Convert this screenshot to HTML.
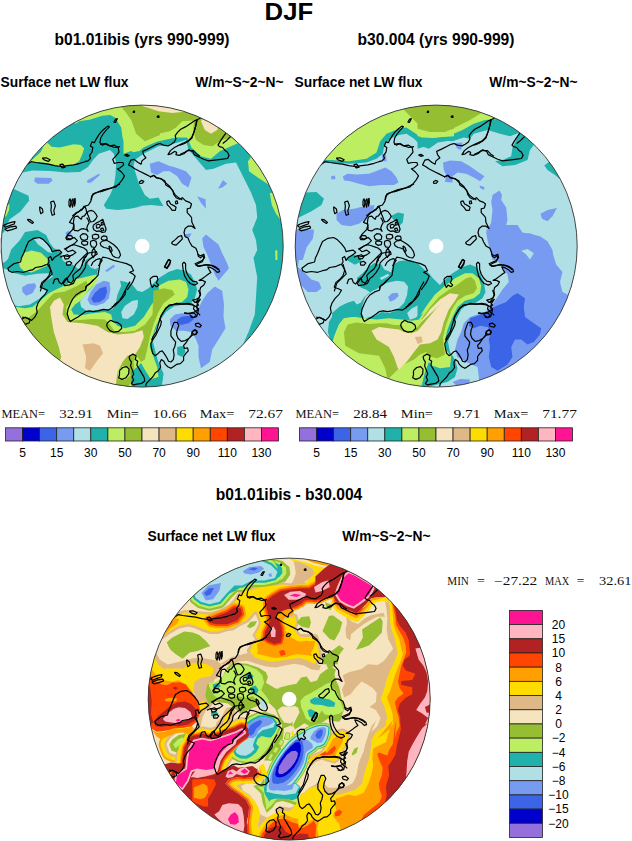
<!DOCTYPE html>
<html><head><meta charset="utf-8"><title>DJF Surface net LW flux</title>
<style>html,body{margin:0;padding:0;background:#fff}svg{display:block}</style>
</head><body>
<svg width="632" height="841" viewBox="0 0 632 841">
<style>
text{font-family:"Liberation Sans",Arial,Helvetica,sans-serif;fill:#000}
.t{font-weight:bold}
.lb{font-size:12px}
.sf{font-family:"Liberation Serif","Times New Roman",serif;fill:#111}
</style>
<rect width="632" height="841" fill="#fff"/>
<text x="264.6" y="20.3" class="t" font-size="24.8" textLength="48.6" lengthAdjust="spacingAndGlyphs">DJF</text>
<text x="142" y="44.6" class="t" font-size="15.6" text-anchor="middle">b01.01ibis (yrs 990-999)</text>
<text x="436" y="44.6" class="t" font-size="15.6" text-anchor="middle">b30.004 (yrs 990-999)</text>
<text x="0.5" y="87.2" class="t" font-size="13.8">Surface net LW flux</text>
<text x="283.5" y="87.2" class="t" font-size="13.8" text-anchor="end">W/m~S~2~N~</text>
<text x="294.5" y="87.2" class="t" font-size="13.8">Surface net LW flux</text>
<text x="577.5" y="87.2" class="t" font-size="13.8" text-anchor="end">W/m~S~2~N~</text>
<text x="289" y="500.2" class="t" font-size="15.6" text-anchor="middle">b01.01ibis - b30.004</text>
<text x="147.5" y="541" class="t" font-size="13.8">Surface net LW flux</text>
<text x="430.5" y="541" class="t" font-size="13.8" text-anchor="end">W/m~S~2~N~</text>
<clipPath id="c1"><circle cx="142.2" cy="246.1" r="141.0"/></clipPath>
<g clip-path="url(#c1)">
<circle cx="142.2" cy="246.1" r="142.0" fill="#20B2AA"/>
<polygon fill="#B0E0E6" points="-2.5,174.0 15.0,174.0 32.5,170.5 50.0,171.0 66.2,172.5 80.0,172.0 88.0,167.0 93.0,160.0 98.8,153.8 110.0,150.0 113.8,153.8 116.2,162.5 115.5,175.0 113.8,186.2 110.0,195.0 103.8,205.0 106.2,208.8 117.5,210.0 130.0,208.8 142.5,206.2 136.0,206.2 151.0,205.0 163.5,206.2 158.5,197.5 149.8,198.8 144.8,195.0 138.5,182.5 133.5,166.2 134.8,160.0 143.5,153.8 151.0,150.0 158.5,146.2 167.2,145.0 176.0,143.0 186.0,140.0 188.5,150.0 192.2,153.8 198.5,161.2 206.0,170.0 213.5,168.8 226.0,163.8 236.0,162.5 241.0,172.5 246.0,182.5 251.0,192.5 256.0,205.0 257.2,217.5 252.2,230.0 256.0,240.0 257.2,250.0 253.5,258.0 257.2,277.0 256.0,297.0 254.8,314.5 248.5,332.0 243.5,343.2 251.0,362.0 201.0,407.0 162.2,392.0 162.2,382.0 163.5,373.2 159.0,364.5 155.5,352.0 153.0,342.0 154.8,332.0 159.8,320.8 166.0,312.0 173.5,306.5 183.5,304.5 191.0,303.2 194.8,298.2 197.2,289.5 194.8,282.0 191.0,274.5 184.8,270.8 177.2,269.0 168.5,272.0 158.5,278.2 153.5,283.2 148.5,288.2 142.2,292.0 137.2,290.8 132.2,284.5 126.0,282.0 120.0,280.8 121.2,285.8 117.5,294.5 115.5,304.5 112.5,309.5 105.0,309.0 96.2,310.0 87.5,311.5 81.2,307.0 80.0,302.0 83.8,295.8 88.8,290.8 93.8,285.8 96.2,279.5 97.5,272.0 98.8,263.2 96.2,258.2 91.2,257.0 86.2,259.5 82.5,267.0 78.8,269.5 72.5,264.5 67.5,264.0 62.5,260.0 61.2,253.2 57.5,249.5 53.8,248.2 50.0,243.2 46.2,235.0 37.5,230.0 25.0,232.0 20.0,240.0 11.2,249.5 8.0,259.0 4.8,262.2 -2.5,263.2"/>
<polygon fill="#B0E0E6" points="-2.5,267.0 7.5,269.5 15.0,273.2 25.0,275.8 37.5,273.8 48.8,273.2 53.0,276.5 44.5,282.0 41.2,288.2 47.0,291.5 40.0,298.2 30.0,304.5 18.8,306.2 12.5,304.5 -2.5,304.5"/>
<polygon fill="#B0E0E6" points="121.2,312.0 125.0,305.8 132.5,300.8 138.0,300.0 137.5,307.0 133.8,314.5 127.5,319.0 122.5,318.2"/>
<polygon fill="#B0E0E6" points="87.5,260.5 93.8,258.1 100.9,257.3 102.5,261.3 100.9,266.0 95.4,269.2 90.6,267.6 88.3,264.4"/>
<polygon fill="#B0E0E6" points="34.0,239.1 39.6,237.8 43.5,240.6 47.5,244.6 51.4,249.3 52.2,253.3 47.5,251.7 42.7,247.8 38.0,244.6"/>
<polygon fill="#20B2AA" points="-2.5,185.0 15.0,189.5 28.5,195.8 29.2,200.5 20.5,211.5 9.5,219.5 4.0,232.2 -2.5,235.0"/>
<polygon fill="#20B2AA" points="177.2,347.0 183.5,345.8 185.5,352.0 182.2,357.0 177.2,354.5"/>
<polygon fill="#789BF2" points="35.0,177.5 51.2,178.0 52.5,180.5 48.8,183.8 37.5,183.8 34.2,181.2"/>
<polygon fill="#789BF2" points="87.0,180.5 98.8,173.8 100.0,175.0 91.2,182.5 87.5,183.0"/>
<polygon fill="#789BF2" points="65.5,232.5 68.8,230.8 71.8,233.8 69.5,236.2 66.2,235.5"/>
<polygon fill="#789BF2" points="149.8,163.8 158.5,161.2 168.5,165.5 177.2,168.0 186.0,171.2 191.5,177.5 188.5,187.5 182.2,183.8 177.2,176.2 169.8,171.2 163.5,171.2 157.2,175.0 151.0,172.5"/>
<polygon fill="#789BF2" points="218.0,188.8 223.0,180.0 227.2,183.8 222.2,187.5"/>
<polygon fill="#789BF2" points="197.2,196.2 205.5,199.2 206.0,208.8 201.0,203.0"/>
<polygon fill="#789BF2" points="184.0,234.5 191.5,233.2 189.8,237.0 185.5,238.0"/>
<polygon fill="#789BF2" points="202.2,238.2 206.0,234.5 212.2,239.5 218.5,244.5 222.2,253.2 226.0,260.8 229.0,268.2 224.8,273.2 218.5,280.8 214.8,274.5 211.0,264.5 207.2,254.5 203.5,247.0"/>
<polygon fill="#789BF2" points="214.8,286.5 222.2,290.8 224.0,304.5 223.5,317.0 225.5,328.2 218.5,339.5 212.2,349.5 209.8,362.0 201.0,368.2 198.5,357.0 198.5,345.8 195.5,338.2 191.5,332.0 183.5,330.8 176.0,330.8 170.5,325.8 169.8,319.5 174.8,314.5 182.2,313.2 191.0,314.5 198.5,308.2 202.2,300.8 207.2,293.2"/>
<polygon fill="#3C64E6" points="177.2,319.5 182.2,316.5 192.2,315.8 193.5,319.5 188.5,323.2 181.0,325.0 177.2,323.2"/>
<polygon fill="#789BF2" points="22.0,287.5 27.5,284.0 35.0,283.2 36.2,286.5 32.5,293.2 26.2,295.8 22.5,292.0"/>
<polygon fill="#789BF2" points="87.5,299.5 90.5,292.0 96.2,284.5 103.8,280.8 109.5,282.0 110.5,289.5 108.8,298.2 103.8,303.2 96.2,305.8 90.0,304.5"/>
<polygon fill="#3C64E6" points="91.2,299.0 94.5,293.2 100.0,288.2 106.2,286.5 107.0,292.0 105.0,298.2 100.0,302.0 93.8,302.8"/>
<polygon fill="#789BF2" points="105.0,270.8 113.8,264.5 115.0,266.5 107.0,272.0"/>
<polygon fill="#BDEE62" points="23.2,168.0 27.1,164.1 31.9,160.1 40.6,152.2 46.1,141.5 51.6,146.7 59.6,147.5 73.8,144.3 80.9,145.1 84.1,148.3 82.5,153.8 79.3,160.9 73.8,164.9 67.5,165.7 61.1,166.5 51.6,164.9 43.7,162.5 35.8,162.2 29.5,163.0"/>
<polygon fill="#BDEE62" points="75.0,123.8 80.0,121.0 89.5,119.8 102.2,115.8 110.2,115.0 115.0,117.5 118.0,122.2 121.2,127.5 122.5,137.5 126.2,147.5 133.2,152.2 139.5,151.0 143.5,147.5 152.2,143.5 160.0,139.8 160.0,100.0 75.0,100.0"/>
<polygon fill="#BDEE62" points="3.8,205.0 9.5,204.5 9.0,210.0 6.2,216.2 2.5,217.5"/>
<polygon fill="#BDEE62" points="123.5,153.8 141.0,147.5 158.5,141.2 176.0,137.5 187.2,137.5 191.5,147.5 201.0,156.2 211.0,158.8 219.8,151.2 231.0,146.2 238.5,143.0 238.5,100.0 123.5,100.0"/>
<polygon fill="#BDEE62" points="248.0,161.2 249.0,171.2 258.5,178.0 268.5,184.5 276.0,175.0 256.0,150.0 249.8,158.8"/>
<polygon fill="#BDEE62" points="269.8,193.0 271.8,205.0 276.0,213.8 279.8,218.8 286.0,217.5 286.0,192.5"/>
<polygon fill="#BDEE62" points="275.2,250.8 277.2,250.0 277.5,260.0 275.5,260.0"/>
<polygon fill="#BDEE62" points="19.0,262.2 23.8,252.8 31.5,250.5 41.0,252.8 47.5,259.0 47.5,265.5 41.0,268.5 31.5,272.5 23.8,271.0 19.8,267.0"/>
<polygon fill="#BDEE62" points="10.0,307.0 15.5,307.0 25.0,308.2 32.5,307.0 40.0,300.8 48.8,293.2 55.0,290.0 62.5,286.5 75.0,279.5 87.5,276.5 96.2,274.5 98.0,278.2 95.0,284.5 88.8,290.0 84.5,295.8 80.5,300.8 75.0,304.5 71.2,309.5 73.8,314.5 82.5,315.0 92.5,313.2 105.0,312.0 111.2,314.5 112.5,320.8 117.5,325.8 125.0,328.2 135.0,325.8 143.8,317.0 150.0,307.0 155.0,299.5 160.0,295.8 158.5,285.8 168.5,280.8 179.8,279.5 186.0,282.0 188.5,289.5 187.2,297.0 182.2,302.0 174.8,303.2 167.2,307.0 161.0,315.8 156.0,325.8 152.2,337.0 149.8,347.0 153.5,357.0 157.2,367.0 158.5,377.0 151.0,379.5 146.0,372.0 141.0,363.2 136.0,368.2 131.0,372.0 131.0,384.5 136.0,392.0 51.0,392.0"/>
<polygon fill="#96BE32" points="120.0,105.0 125.0,111.2 131.2,120.0 136.2,133.8 145.0,141.2 160.0,135.0 160.0,100.0 120.0,100.0"/>
<polygon fill="#96BE32" points="123.5,110.0 129.0,112.5 133.5,122.5 136.0,132.5 144.8,141.2 158.5,133.8 169.8,131.2 176.0,127.5 182.2,121.2 194.0,120.5 193.0,130.0 196.0,140.0 203.5,145.0 212.2,146.2 222.2,140.0 231.0,137.5 237.2,141.2 238.5,100.0 123.5,100.0"/>
<polygon fill="#96BE32" points="20.0,319.5 27.5,318.2 37.5,310.8 47.5,299.5 53.8,293.2 65.0,291.5 77.5,285.8 86.2,280.8 88.0,285.0 85.0,290.8 80.0,294.5 72.5,299.5 66.2,307.0 67.0,315.8 70.0,320.8 80.0,320.0 92.5,319.0 105.0,319.5 110.0,324.5 115.0,332.0 125.0,332.0 135.0,330.8 145.0,324.5 152.5,314.5 153.5,290.8 163.5,288.2 172.2,290.0 174.8,294.5 171.0,297.5 163.5,303.2 158.5,312.0 153.5,324.5 149.8,337.0 147.2,349.5 144.8,359.5 141.0,362.0 136.0,354.5 133.5,362.0 134.8,372.0 131.0,382.0 126.0,392.0 51.0,392.0"/>
<polygon fill="#F5E4BE" points="141.0,105.0 143.5,106.2 158.5,111.2 172.2,113.0 184.8,111.8 182.2,105.0 163.5,97.5 141.0,97.5"/>
<polygon fill="#F5E4BE" points="201.0,121.2 204.8,130.0 211.0,133.8 217.2,130.0 219.0,125.0 211.0,117.5 203.5,117.5"/>
<polygon fill="#F5E4BE" points="60.0,297.5 63.8,304.5 62.5,314.5 67.5,322.0 82.5,323.2 97.5,325.8 107.5,332.0 117.5,334.5 132.5,333.2 142.5,330.2 143.8,337.0 140.0,347.0 135.0,354.5 127.5,355.8 122.5,362.0 117.5,372.0 116.2,382.0 115.0,392.0 50.0,392.0 61.2,357.0 58.8,347.0 53.8,332.0 51.2,317.0 50.0,307.0 53.8,300.8"/>
<polygon fill="#DEB887" points="82.5,344.5 93.8,343.2 100.0,345.8 103.0,353.2 96.2,362.0 90.0,370.8 85.0,368.2 86.2,357.0"/>
<polygon fill="#BDEE62" points="117.5,372.0 122.5,365.8 128.8,368.2 130.0,375.8 125.0,379.5 118.8,379.5"/>
<polygon fill="#20B2AA" points="131.0,372.0 136.0,368.2 141.0,363.2 146.0,372.0 151.0,379.5 158.5,377.0 163.5,374.5 162.2,382.0 151.0,388.2 136.0,392.0 131.0,384.5"/>
<circle cx="142.2" cy="246.1" r="7.3" fill="#fff"/>
<g fill="none" stroke="#000" stroke-width="1.2" stroke-linejoin="round">
<polyline points="26.3,164.9 31.1,161.7 35.8,162.5 42.2,163.3 48.5,164.1 54.8,165.7 61.1,166.5 67.5,165.7 73.8,164.9 80.1,163.3 84.9,161.7 88.0,160.9 90.4,158.5 89.6,155.4 92.0,152.2 92.8,147.5 90.4,145.9 92.0,141.9 94.4,142.7 95.9,139.6 98.3,135.6 100.7,132.4 103.9,129.3 107.8,126.1 109.4,126.9 106.2,130.1 103.1,134.0 100.7,138.0 99.9,142.7 102.3,145.1 106.2,143.5 110.2,145.9 114.9,147.5 120.0,146.7"/>
<polyline points="42.2,158.2 46.1,157.8 50.1,159.8 48.5,161.4 44.5,160.1 42.2,158.2"/>
<polyline points="59.6,164.6 62.7,164.1 65.1,167.2 62.4,168.0 59.6,164.6"/>
<polyline points="113.7,122.2 115.7,119.0 117.3,118.7 115.4,122.5 113.7,122.2"/>
<polyline points="100.0,144.3 104.7,143.5 109.5,145.9 114.2,145.1 118.2,147.5 119.0,152.2 115.8,156.2 112.7,159.3 114.2,163.3 118.2,162.5 122.9,162.5 123.7,164.9 119.8,168.0 117.4,168.8 121.4,172.0 124.5,175.9 122.2,179.9 119.0,183.9 115.8,187.0 109.5,188.6 103.2,191.0 100.0,191.8"/>
<polyline points="120.0,183.9 111.8,187.8 102.3,190.2 92.8,194.1 91.2,200.0"/>
<polyline points="182.3,200.0 179.1,198.1 175.2,194.9 172.8,191.0 169.6,186.2 164.9,182.3 161.7,179.1 156.2,177.5 153.8,175.2 150.6,176.7 145.9,174.4 139.6,171.2 134.8,168.8 131.6,166.5 128.5,164.9 130.9,160.1 134.0,159.3 138.0,162.5 141.1,164.1 141.9,160.9 145.9,157.8 143.5,154.6 142.7,151.4 147.5,149.1 152.2,146.7 157.0,144.3 160.1,143.5 163.3,145.1 168.0,145.9 171.2,144.3 174.4,141.9 175.9,138.8 175.2,135.6 177.5,132.4 180.7,129.3 185.4,126.9 190.2,123.7 194.9,120.6 197.3,119.8 195.7,126.1 194.1,131.6 191.8,137.2 187.8,141.1 183.9,142.7 179.1,145.1 174.4,147.5 170.4,150.6 168.0,154.6 171.2,153.8 174.4,151.4 176.7,152.2 175.9,154.6 179.1,155.4 183.9,153.8 187.8,150.6 193.4,150.6 197.3,154.6 200.0,156.2"/>
<polyline points="139.2,182.0 141.5,180.4 143.8,181.3 142.4,183.2 139.9,183.4 139.2,182.0"/>
<polyline points="124.5,155.1 126.9,154.4 129.3,155.7 126.9,156.3 124.5,155.1"/>
<polyline points="133.2,111.4 134.5,111.1 134.5,112.3 133.2,112.3 133.2,111.4"/>
<polyline points="157.3,116.1 158.9,115.8 158.9,117.4 157.3,117.1 157.3,116.1"/>
<polyline points="200.6,118.2 196.6,119.8 195.8,125.3 194.2,131.6 191.9,138.0 188.7,141.1 184.7,143.5 180.0,145.1"/>
<polyline points="180.0,154.6 184.7,152.2 188.7,149.8 192.7,151.4 194.2,154.6 199.0,157.0 203.7,159.3 208.5,160.9 214.8,160.1 221.1,159.3 227.5,158.5 229.1,155.4 227.5,152.2 225.1,150.6 222.7,147.5 219.6,146.7 218.0,145.1 220.3,141.1 223.5,136.4 225.9,133.2"/>
<polyline points="222.7,143.5 225.9,141.1 229.1,138.0 230.9,136.1"/>
<polyline points="3.2,225.6 6.3,224.0 11.1,222.4 15.0,221.6 14.2,224.0 9.5,225.6 5.5,227.2 3.2,225.6"/>
<polyline points="4.7,229.2 9.5,227.2 15.8,226.1 16.6,228.0 11.9,229.6 7.1,230.8 4.7,229.2"/>
<polyline points="27.2,219.3 30.1,219.7 33.5,222.4 32.4,223.5 29.3,221.6 27.2,219.3"/>
<polyline points="39.6,206.6 42.4,209.0 43.0,212.2 40.8,213.7 39.9,210.6 39.6,206.6"/>
<polyline points="50.6,201.9 53.8,201.1 55.4,205.8 53.8,210.6 54.6,214.5 52.2,215.3 50.9,210.6 51.4,205.8 50.6,201.9"/>
<polyline points="40.3,291.3 42.7,283.4 47.5,278.6 52.2,273.9 50.6,269.1 47.5,264.4 49.1,262.0 48.3,258.0 50.6,256.5 52.2,260.4 54.6,257.2 58.5,254.9 61.7,252.5 59.3,250.1 54.6,250.9 52.2,251.7 50.6,247.8 47.5,243.8 43.5,239.8 39.6,237.5 34.0,238.3 28.5,241.4 26.1,247.0 23.7,253.3 21.4,258.0 20.6,262.0 14.2,263.6 7.9,268.3 8.7,270.7 11.9,272.3 17.4,271.5 23.7,272.3 28.5,270.7 32.4,269.9 35.6,267.5 41.1,266.7 46.7,264.4"/>
<polyline points="104.3,190.0 99.6,191.6 94.8,193.2 91.6,196.3 90.9,201.1 88.5,205.0 83.7,206.6 82.2,209.8 77.4,212.2 74.2,215.3 71.9,218.5 69.5,222.4 73.4,224.0 74.2,228.0 71.1,231.1 67.9,234.3 66.3,237.5 69.5,239.1 74.2,237.5 77.4,240.6 74.2,243.8 69.5,246.2 65.5,249.3 67.9,251.7 72.7,250.1 75.8,252.5 72.7,254.9 67.9,256.5 63.2,255.7 60.0,257.2"/>
<polyline points="87.8,211.5 91.1,210.4 93.9,211.5 96.1,214.3 97.2,216.5 95.6,219.3 93.3,221.5 90.6,222.0 89.5,219.3 88.4,215.9 87.3,213.7 87.8,211.5"/>
<polyline points="72.3,215.9 74.5,214.3 76.2,212.6 78.4,212.1 80.6,209.8 83.4,208.2 85.0,206.5 86.1,209.3 86.7,212.6 84.5,215.9 82.3,216.5 81.2,219.3 79.5,218.1 77.8,216.2 75.1,216.5 74.0,218.1 73.4,222.6 74.0,225.3 72.9,228.1 74.5,230.3 77.8,230.9 80.6,229.2 83.9,228.7 86.7,229.8 88.1,231.4 86.7,228.1 87.8,225.0 89.2,222.6 88.1,219.8 86.7,217.6"/>
<polyline points="93.3,225.3 96.1,223.1 99.4,221.5 102.8,219.3 103.9,222.6 105.0,225.9 106.1,229.2 105.0,232.0 102.2,232.5 99.4,230.9 96.7,231.4 93.9,229.8 93.0,227.6 93.3,225.3"/>
<polyline points="96.1,225.3 98.3,224.2 100.5,225.3 99.4,227.6 96.7,228.1 96.1,225.3"/>
<polyline points="101.1,222.6 102.8,222.0 103.3,224.8 101.7,225.3 101.1,222.6"/>
<polyline points="100.5,228.7 102.8,228.1 103.9,230.3 101.7,231.2 100.5,228.7"/>
<polyline points="80.1,235.9 82.8,233.7 86.1,234.2 87.8,236.4 87.3,239.2 84.5,240.3 81.7,239.7 80.6,237.9 80.1,235.9"/>
<polyline points="92.2,235.3 95.0,234.2 98.3,234.8 98.9,237.5 96.1,239.2 92.8,238.6 92.2,235.3"/>
<polyline points="101.1,237.5 103.3,235.9 106.6,236.4 107.2,239.2 104.4,240.3 101.7,239.7 101.1,237.5"/>
<polyline points="81.7,241.4 85.0,240.9 87.8,242.0 87.3,244.7 83.9,245.3 81.7,243.8 81.7,241.4"/>
<polyline points="90.6,241.4 93.3,240.3 96.1,241.4 96.7,244.7 95.0,247.5 91.7,246.9 90.4,244.2 90.6,241.4"/>
<polyline points="65.7,237.5 68.4,235.3 71.8,235.9 72.9,238.1 70.1,239.7 66.8,239.7 65.7,237.5"/>
<polyline points="100.0,243.1 102.8,240.9 106.6,240.3 110.5,242.5 113.8,244.7 117.2,248.0 119.4,251.4 120.5,255.2 118.8,258.0 115.5,257.5 112.7,255.8 111.1,252.5 109.4,249.2 106.6,248.0 103.9,247.5 101.1,245.8 100.0,243.1"/>
<polyline points="108.9,245.8 111.1,247.5 112.2,250.8 110.5,251.9 109.4,248.6 108.9,245.8"/>
<polyline points="64.0,249.2 67.3,247.5 70.6,245.8 74.0,244.7 77.3,245.8 80.6,246.9 83.9,248.0 86.7,250.3 87.8,253.6 86.1,256.4 83.9,257.5 84.5,260.2 82.8,262.4 81.7,266.0"/>
<polyline points="64.0,255.8 67.3,254.7 70.1,256.4 68.4,258.6 65.1,259.1 64.0,255.8"/>
<polyline points="66.2,262.4 69.5,261.3 71.8,263.0 70.1,265.2 66.8,265.2 66.2,262.4"/>
<polyline points="93.9,248.0 95.6,251.4 95.0,254.7 93.3,257.5 91.7,254.7 92.2,250.8 93.9,248.0"/>
<polyline points="91.1,266.0 92.8,262.4 96.1,259.7 99.4,258.6 102.2,260.2 100.5,263.0 98.3,266.0"/>
<polyline points="69.0,200.4 70.1,198.8 70.9,202.6 70.1,207.1 69.0,205.4 69.0,200.4"/>
<polyline points="71.8,199.9 72.9,198.8 73.4,202.6 72.6,207.1 71.8,204.9 71.8,199.9"/>
<polyline points="74.0,199.3 75.1,198.4 75.3,202.6 74.5,206.0 74.0,199.3"/>
<polyline points="75.8,264.4 80.6,259.6 83.7,256.5 86.9,253.3 91.6,252.5 96.4,251.7 97.2,254.1 93.2,256.5 89.3,259.6 86.1,262.8 85.3,267.5 82.2,272.3 79.0,276.2 75.8,278.6 73.4,283.4 69.5,284.9 64.7,285.7 63.2,283.4 66.3,279.4 69.5,275.4 72.7,270.7 74.2,267.5 75.8,264.4"/>
<polyline points="85.3,290.0 86.1,286.5 89.3,284.1 92.4,281.0 95.6,277.8 98.0,275.4 98.8,270.7 99.6,265.9 100.3,261.2 102.7,257.2 107.5,258.0 113.8,260.4 120.1,262.0 126.5,263.6 131.2,265.9 133.6,270.7 129.6,272.3 132.8,273.9 135.2,276.2 132.8,281.8 129.6,286.5 127.2,290.0"/>
<polyline points="93.3,280.0 90.1,283.2 86.2,286.3 85.4,290.3 80.6,291.9 75.9,295.0 72.7,299.0 70.3,303.7 68.0,309.3 67.2,314.0 68.8,318.8 70.3,321.5 73.5,319.6 77.5,317.2 82.2,314.0 85.4,311.6 89.3,310.9 93.3,311.6 98.0,310.9 103.6,309.3 108.3,310.1 112.3,307.7 115.4,303.7 119.4,300.6 122.6,295.8 124.9,291.1 127.3,286.3 130.0,281.6"/>
<polyline points="111.6,307.4 114.7,305.8 117.9,302.7 121.9,298.7 125.0,294.7 125.8,290.0"/>
<polyline points="107.5,322.7 110.7,320.3 113.9,321.9 117.8,322.7 121.0,325.1 121.8,328.3 118.6,331.4 113.9,332.2 109.9,330.6 107.5,327.5 106.7,325.1 107.5,322.7"/>
<polyline points="49.1,264.2 50.6,270.6 49.1,275.3 45.9,279.3 41.9,282.4 40.3,287.2 44.3,288.8 47.5,290.3 45.1,294.3 41.1,298.3 38.0,303.0 36.4,307.8 37.2,312.5 34.8,317.2 31.6,320.4 26.9,318.0 22.2,317.2"/>
<polyline points="53.0,284.0 54.6,279.3 57.8,278.5 59.3,282.4 61.7,284.0 64.9,279.3 67.2,277.7 68.0,281.6 71.2,283.2 73.6,280.1 72.8,275.3 75.9,272.2 79.9,269.0 82.3,265.0 83.1,260.3 86.2,256.3"/>
<polyline points="21.4,319.6 25.3,317.2 30.1,319.6 29.3,322.8 25.3,324.4 21.4,319.6"/>
<polyline points="150.0,177.1 154.0,175.5 156.3,177.9 161.1,178.7 165.0,181.1 165.8,185.0 169.8,187.4 172.9,190.6 173.7,194.5 176.1,197.7 179.3,199.3 182.4,197.7 185.6,200.9 189.6,202.4 191.5,204.0 190.3,208.0 187.2,208.8 187.2,212.7 189.6,215.1 191.5,217.5 191.9,222.2 193.5,225.4 195.1,228.5 191.9,226.2 188.0,226.2 185.1,228.5 184.0,232.5 185.1,236.5 188.0,238.0 189.6,242.0 191.9,245.9 195.9,248.3 197.5,252.3 198.3,256.2 200.6,257.8 203.0,255.4 203.8,258.6 202.2,261.8 198.3,263.4 195.9,264.9 199.1,266.5 205.4,264.9 211.7,265.7 216.5,268.1 218.0,270.0"/>
<polyline points="166.6,201.6 169.0,200.9 170.6,204.0 173.7,205.6 176.1,207.2 175.3,210.3 172.2,210.3 169.8,207.2 167.4,204.8 166.6,201.6"/>
<polyline points="175.3,201.3 177.2,200.9 177.7,203.5 175.8,203.9 175.3,201.3"/>
<polyline points="171.4,242.8 175.3,239.6 178.5,236.5 181.6,235.7 182.4,238.8 179.3,242.0 176.1,245.2 172.9,244.4 171.4,242.8"/>
<polyline points="165.0,266.5 166.6,262.6 169.0,259.4 170.6,261.0 168.7,264.9 166.6,268.1 165.0,266.5"/>
<polyline points="197.5,254.2 200.6,255.8 203.8,254.2 204.6,257.4 202.2,260.6 198.3,262.2 195.1,263.7 197.5,266.1 202.2,265.3 207.0,264.5 211.7,265.3 215.7,266.9 218.8,269.3 219.6,271.6 217.2,272.4 214.9,270.1 210.9,267.7 207.8,266.9 209.3,270.1 210.9,272.4 208.5,274.0 205.4,276.4 202.2,278.8 199.1,280.3 202.2,280.3 205.4,281.9 203.8,285.1 200.6,287.5 199.8,290.6 200.6,294.6 199.1,297.8 195.9,299.3 192.7,300.1 195.1,302.5 198.3,300.9 200.3,299.3 197.5,303.3 196.7,307.2 197.5,310.4 194.3,312.0 191.1,312.8 187.2,313.6 184.0,312.8"/>
<polyline points="189.6,314.4 192.7,317.5 196.7,316.7 197.5,313.6 193.5,308.8 194.3,305.7 191.9,304.1 188.0,303.3 181.6,304.1 176.1,304.1 170.6,304.9 165.8,308.0 163.4,312.0 161.1,315.9 159.5,320.7 157.9,326.2 156.3,331.8 153.2,336.5 151.6,340.0"/>
<polyline points="182.4,263.7 184.0,262.2 185.6,263.7 185.6,269.3 187.2,274.0 189.6,278.0 192.7,281.1 196.7,281.9 197.5,283.5 194.3,285.1 190.3,283.5 187.2,280.3 184.5,275.6 183.2,270.1 182.4,263.7"/>
<polyline points="150.0,278.8 153.2,276.4 157.1,276.4 157.9,279.6 156.3,282.7 158.7,285.1 157.1,286.7 154.0,285.1 152.4,287.5 150.8,284.3 150.0,278.8"/>
<polyline points="164.2,266.9 166.6,263.7 168.2,259.8 170.6,260.6 169.8,264.5 167.1,268.5 164.2,266.9"/>
<polyline points="195.1,323.9 198.3,323.1 201.4,325.4 199.8,327.3 196.2,326.2 195.1,323.9"/>
<polyline points="191.9,331.5 195.1,330.2 197.5,332.6 195.1,334.5 192.4,333.7 191.9,331.5"/>
<polyline points="198.6,290.0 200.2,294.7 198.6,298.7 196.2,301.9 198.6,305.0 196.2,306.6 192.3,305.0 187.5,304.2 182.0,304.2 176.5,303.4 172.5,305.0 169.3,305.0 166.2,308.2 163.8,311.4 161.4,315.3 159.8,319.3 161.4,321.6 160.6,325.6 158.3,330.3 155.9,335.1 152.7,339.8 150.8,343.8 151.5,348.5 152.7,353.3 155.1,355.7 157.5,354.1 159.8,351.7 162.2,350.9 164.6,354.1 167.0,358.0 168.5,361.2 170.9,362.0 173.3,359.6 174.1,354.9 173.3,350.1 174.9,346.2 175.7,342.2 173.3,339.1 170.9,335.9 170.9,331.1 172.5,326.4 174.1,322.4 177.2,322.4 178.8,325.6 177.2,329.6 176.5,334.3 178.0,338.3 181.2,341.4 185.2,340.6 189.1,338.3 192.3,335.1 196.2,334.3 197.0,331.1 194.7,329.6 192.3,331.9 191.5,335.1 188.3,339.1 185.9,343.0 183.6,345.4 184.4,348.5 187.5,347.8 188.3,350.9 185.9,353.3 183.6,356.5 183.6,360.4 180.4,363.6 176.5,364.4 173.3,366.7 170.9,368.3 167.8,366.7 165.4,364.4 163.8,361.2 161.4,359.6 159.8,362.8 160.6,367.5 158.3,370.7 155.1,373.1 152.7,377.0 149.6,380.2 146.4,383.4 145.6,386.5"/>
<polyline points="184.4,312.9 189.1,313.7 193.9,312.9 196.2,315.3 193.9,317.7 190.7,316.9"/>
<polyline points="196.2,306.6 198.6,309.0 197.8,312.9 200.2,315.3"/>
<polyline points="129.0,356.5 132.9,354.1 136.1,355.7 135.3,359.6 137.7,361.2 136.9,365.2 139.3,369.1 141.6,373.1 144.0,377.0 144.8,381.0 141.6,383.4 136.9,384.1 133.7,384.9 131.4,383.4 133.7,380.2 132.2,377.0 133.7,373.9 132.2,369.9 130.6,365.9 131.4,362.0 129.8,359.6 129.0,356.5"/>
<polyline points="119.5,370.7 122.7,367.5 126.6,366.7 129.0,369.1 128.7,373.9 125.8,377.8 121.9,379.4 118.7,377.8 119.5,374.7 119.5,370.7"/>
</g>
</g>
<circle cx="142.2" cy="246.1" r="141.0" fill="none" stroke="#333" stroke-width="0.9"/>
<clipPath id="c2"><circle cx="436.2" cy="246.1" r="141.0"/></clipPath>
<g clip-path="url(#c2)">
<circle cx="436.2" cy="246.1" r="142.0" fill="#B0E0E6"/>
<polygon fill="#20B2AA" points="316.5,162.5 331.5,162.5 350.2,163.8 366.5,162.5 376.5,158.8 382.8,153.8 384.5,145.0 390.2,138.8 399.0,135.0 406.5,133.8 414.0,138.8 421.5,146.2 429.0,148.8 437.8,142.5 454.0,140.0 454.0,100.0 316.5,100.0"/>
<polygon fill="#20B2AA" points="417.5,148.8 430.0,145.0 440.0,140.0 452.5,141.2 463.8,137.5 470.0,138.8 473.8,133.8 487.5,130.0 500.0,133.8 510.0,136.2 520.0,132.5 525.0,135.0 525.0,100.0 417.5,100.0"/>
<polygon fill="#20B2AA" points="495.0,161.2 502.5,166.2 515.0,165.0 527.5,160.0 530.0,150.0 533.8,145.0 537.5,137.5 520.0,130.0 516.2,140.0 512.5,147.5 511.2,156.2 502.5,160.0"/>
<polygon fill="#20B2AA" points="544.2,165.5 550.0,161.2 556.2,167.5 563.8,182.5 555.0,175.0 547.5,170.0"/>
<polygon fill="#20B2AA" points="291.5,193.8 305.2,192.5 316.5,192.0 324.0,198.8 321.5,205.0 311.5,211.2 299.0,217.5 291.5,220.0"/>
<polygon fill="#20B2AA" points="390.2,216.2 397.8,212.5 404.0,213.8 402.8,222.5 399.0,226.2 395.2,221.2"/>
<polygon fill="#20B2AA" points="356.8,278.0 362.5,273.2 369.1,266.6 374.8,262.8 381.5,264.7 384.3,269.4 391.0,272.3 392.9,264.7 399.5,260.9 409.9,259.9 417.5,262.8 423.2,268.5 428.9,273.2 432.7,278.0 437.5,282.7 440.3,285.6 446.0,283.7 455.5,280.8 455.5,286.5 447.9,287.5 442.2,291.3 436.5,297.0 430.8,304.6 427.0,312.1 423.2,319.7 417.5,324.5 409.9,323.5 402.4,321.6 394.8,320.7 385.3,319.7 372.0,320.7 362.5,318.8 353.0,315.9 345.4,315.9 337.8,319.7 332.1,327.3 332.1,313.1 339.7,306.5 347.3,302.7 353.9,300.8 356.8,304.6 360.6,302.7 364.4,297.0 370.1,292.2 366.3,289.7 360.6,287.5 357.7,282.7"/>
<polygon fill="#20B2AA" points="331.5,343.2 327.8,332.0 329.0,322.0 334.0,313.2 341.5,307.0 351.5,302.0 355.2,304.5 356.5,312.0 361.5,313.2 363.5,318.2 354.0,317.0 344.0,318.2 339.0,324.5 334.0,337.0 332.8,343.2"/>
<polygon fill="#20B2AA" points="346.3,258.0 353.0,254.2 361.5,258.0 360.6,261.8 354.9,264.7 348.2,260.9"/>
<polygon fill="#B0E0E6" points="365.3,297.0 372.0,291.3 379.6,287.5 387.2,282.7 396.7,280.8 404.2,281.8 408.0,286.5 407.1,295.1 404.2,302.7 399.5,307.4 394.8,311.2 389.1,313.1 381.5,312.1 374.8,315.9 369.1,316.9 364.4,318.8 361.5,313.1 362.5,304.6"/>
<polygon fill="#B0E0E6" points="407.1,313.1 411.8,308.4 419.4,304.6 423.2,306.5 421.3,313.1 415.6,317.8 409.9,319.7"/>
<polygon fill="#B0E0E6" points="379.6,278.0 388.1,273.8 389.1,275.7 381.5,279.9"/>
<polygon fill="#20B2AA" points="417.5,292.0 430.0,285.8 435.0,290.8 442.5,282.0 452.5,273.2 462.5,267.0 470.0,264.5 476.2,267.0 480.0,273.2 483.8,282.0 485.5,292.0 482.5,298.2 475.0,303.2 467.5,304.5 461.2,309.5 456.2,319.5 451.2,332.0 448.0,342.0 450.0,352.0 455.0,359.5 457.5,368.2 455.0,377.0 447.5,382.0 437.5,384.5 427.5,387.0 417.5,387.0"/>
<polygon fill="#789BF2" points="342.8,176.2 347.8,173.8 356.5,174.5 369.0,173.8 379.0,170.0 385.2,167.5 391.5,171.2 396.5,177.5 398.5,182.5 394.0,185.0 381.5,185.0 369.0,186.2 359.0,183.8 350.2,181.2 344.0,180.5"/>
<polygon fill="#789BF2" points="331.0,176.2 334.8,175.5 335.5,179.0 331.5,179.5"/>
<polygon fill="#789BF2" points="336.5,213.8 342.8,210.0 354.0,208.8 364.0,206.2 374.5,205.0 373.5,210.0 367.8,215.0 364.0,220.0 359.0,223.8 350.2,226.2 341.5,225.0 336.5,220.0"/>
<polygon fill="#789BF2" points="291.5,232.5 296.5,232.5 306.5,230.0 314.0,231.2 312.8,238.8 306.5,247.5 302.8,260.0 291.5,260.0"/>
<polygon fill="#789BF2" points="381.5,154.5 386.0,153.8 386.5,161.2 382.8,161.2"/>
<polygon fill="#789BF2" points="443.0,162.5 450.0,160.5 461.2,161.2 470.0,166.2 478.8,172.5 484.5,176.2 480.0,181.2 473.8,177.5 466.2,173.8 457.5,172.5 452.5,176.2 452.5,182.5 445.0,182.0 446.2,175.0 443.8,170.0"/>
<polygon fill="#789BF2" points="453.8,143.0 462.5,142.5 461.2,150.0 457.5,148.8"/>
<polygon fill="#789BF2" points="479.5,185.5 484.5,187.0 483.8,190.0 480.0,188.0"/>
<polygon fill="#789BF2" points="492.5,195.0 499.5,190.5 502.0,195.0 501.2,200.0 506.2,207.5 507.5,220.0 506.2,225.0 517.5,225.0 522.5,232.5 530.0,233.8 540.0,236.2 547.5,241.2 552.5,250.0 553.8,260.0 492.5,260.0 487.5,240.0 486.2,232.5 491.2,222.5 492.5,210.0 491.2,202.5"/>
<polygon fill="#789BF2" points="540.5,213.8 547.5,210.0 557.0,208.0 552.5,216.2 547.5,221.2 542.0,218.8"/>
<polygon fill="#789BF2" points="291.5,229.5 314.0,229.5 311.5,239.5 305.2,244.5 304.0,254.5 299.0,259.5 297.8,267.0 304.0,272.0 311.5,279.5 319.0,282.0 321.5,288.2 316.5,292.0 307.8,292.0 301.5,285.8 291.5,277.0"/>
<polygon fill="#789BF2" points="388.1,297.0 391.9,293.2 397.6,292.8 398.6,296.0 394.8,299.8 390.0,301.7"/>
<polygon fill="#789BF2" points="486.2,229.5 488.8,239.5 492.5,247.0 495.0,257.0 500.0,264.5 507.5,274.5 508.8,282.0 502.5,289.5 497.5,297.0 492.5,304.5 485.0,312.0 477.5,314.5 470.0,317.0 463.8,323.2 461.2,332.0 457.5,339.5 455.0,349.5 457.5,357.0 466.2,362.0 477.5,367.0 478.8,377.0 480.0,392.0 580.0,392.0 580.0,292.0 567.5,294.5 562.5,292.0 560.0,282.0 562.5,272.0 556.2,264.5 553.8,257.0 550.0,247.0 542.5,239.5 530.0,233.2 522.5,234.5 517.5,239.5 518.0,244.0 516.2,229.5"/>
<polygon fill="#B0E0E6" points="521.2,250.8 527.5,249.0 533.8,253.2 530.0,259.5 526.2,254.5"/>
<polygon fill="#789BF2" points="452.5,382.0 460.0,379.0 470.0,379.5 468.8,385.0 457.5,386.5"/>
<polygon fill="#3C64E6" points="470.0,318.2 477.5,315.8 485.0,313.2 493.8,307.0 500.0,304.5 506.2,302.0 512.5,295.8 517.5,293.2 525.0,298.2 523.8,307.0 525.0,317.0 533.8,323.2 541.2,328.2 540.0,334.5 533.8,342.0 527.5,344.5 521.2,339.5 515.0,339.5 511.2,347.0 512.5,357.0 507.5,364.5 497.5,370.8 491.2,367.0 488.8,357.0 490.0,347.0 488.8,339.5 491.2,332.0 487.5,327.0 480.0,325.8 473.8,328.2 468.8,325.8"/>
<polygon fill="#BDEE62" points="316.5,160.0 331.5,160.0 349.0,161.2 366.5,158.8 376.5,152.5 380.2,141.2 386.5,133.8 399.0,128.8 406.5,127.5 414.0,132.5 421.5,137.5 434.0,137.5 454.0,136.2 454.0,100.0 316.5,100.0"/>
<polygon fill="#BDEE62" points="417.5,136.2 432.5,138.0 447.5,136.2 462.5,130.0 473.8,123.8 485.0,120.0 500.0,118.8 500.0,100.0 417.5,100.0"/>
<polygon fill="#BDEE62" points="329.0,347.0 332.8,342.0 334.0,337.0 339.0,324.5 344.0,318.2 354.0,317.0 364.0,318.2 376.5,319.5 389.0,318.2 401.5,319.5 411.5,320.8 419.0,319.5 424.0,312.0 430.2,304.5 436.5,298.2 444.0,294.5 420.0,315.8 427.5,304.5 435.0,294.5 445.0,285.8 455.0,278.2 465.0,273.2 472.5,273.2 478.8,278.2 481.2,285.8 480.0,293.2 473.8,298.2 465.0,300.8 457.5,307.0 452.5,317.0 447.5,329.5 445.0,339.5 446.2,349.5 451.2,357.0 450.0,367.0 440.0,368.2 432.5,365.8 428.8,362.0 425.0,372.0 420.0,392.0 345.0,392.0"/>
<polygon fill="#96BE32" points="404.0,110.0 411.5,117.5 419.0,125.0 430.2,131.2 444.0,131.2 454.0,128.8 454.0,100.0 404.0,100.0"/>
<polygon fill="#96BE32" points="417.5,128.8 430.0,132.0 445.0,132.0 457.5,126.2 470.0,120.0 480.0,113.8 485.0,110.0 485.0,100.0 417.5,100.0"/>
<polygon fill="#96BE32" points="344.0,332.0 347.8,324.5 356.5,322.5 369.0,324.0 379.0,323.2 386.5,323.2 394.0,325.0 401.5,325.0 404.0,329.5 411.5,332.0 416.5,328.2 421.5,322.0 426.5,314.5 432.8,307.0 439.0,300.8 446.5,297.0 420.0,320.8 430.0,307.0 438.8,297.0 447.5,290.8 457.5,284.5 466.2,278.2 471.2,277.0 475.0,280.8 477.0,288.2 473.8,293.2 465.0,295.8 457.5,300.8 451.2,310.8 446.2,324.5 443.0,337.0 443.8,347.0 445.0,354.5 437.5,358.2 431.2,357.0 426.2,352.0 420.0,354.5 414.0,359.5 404.0,364.5 396.5,370.8 389.0,378.2 387.0,377.0 385.2,368.2 379.0,355.8 369.0,354.5 359.0,353.2 345.2,345.8"/>
<polygon fill="#F5E4BE" points="371.5,330.8 379.0,327.0 389.0,328.2 399.0,329.5 404.0,332.0 411.5,333.2 417.8,330.8 424.0,323.2 430.2,315.8 436.5,308.2 442.8,302.0 420.0,323.2 430.0,309.5 440.0,299.5 450.0,293.2 458.8,294.5 455.0,300.8 448.8,309.5 443.8,322.0 441.2,332.0 437.5,339.5 430.0,343.2 420.0,344.5 414.0,352.0 406.5,362.0 399.0,369.5 397.8,368.2 394.0,357.0 389.0,347.0 376.5,339.5"/>
<polygon fill="#DEB887" points="414.8,337.0 421.5,336.5 422.8,342.0 417.8,344.0"/>
<circle cx="436.2" cy="246.1" r="7.3" fill="#fff"/>
<g fill="none" stroke="#000" stroke-width="1.2" stroke-linejoin="round">
<polyline points="320.3,164.9 325.1,161.7 329.8,162.5 336.2,163.3 342.5,164.1 348.8,165.7 355.1,166.5 361.5,165.7 367.8,164.9 374.1,163.3 378.9,161.7 382.0,160.9 384.4,158.5 383.6,155.4 386.0,152.2 386.8,147.5 384.4,145.9 386.0,141.9 388.4,142.7 389.9,139.6 392.3,135.6 394.7,132.4 397.9,129.3 401.8,126.1 403.4,126.9 400.2,130.1 397.1,134.0 394.7,138.0 393.9,142.7 396.3,145.1 400.2,143.5 404.2,145.9 408.9,147.5 414.0,146.7"/>
<polyline points="336.2,158.2 340.1,157.8 344.1,159.8 342.5,161.4 338.5,160.1 336.2,158.2"/>
<polyline points="353.6,164.6 356.7,164.1 359.1,167.2 356.4,168.0 353.6,164.6"/>
<polyline points="407.7,122.2 409.7,119.0 411.3,118.7 409.4,122.5 407.7,122.2"/>
<polyline points="394.0,144.3 398.7,143.5 403.5,145.9 408.2,145.1 412.2,147.5 413.0,152.2 409.8,156.2 406.7,159.3 408.2,163.3 412.2,162.5 416.9,162.5 417.7,164.9 413.8,168.0 411.4,168.8 415.4,172.0 418.5,175.9 416.2,179.9 413.0,183.9 409.8,187.0 403.5,188.6 397.2,191.0 394.0,191.8"/>
<polyline points="414.0,183.9 405.8,187.8 396.3,190.2 386.8,194.1 385.2,200.0"/>
<polyline points="476.3,200.0 473.1,198.1 469.2,194.9 466.8,191.0 463.6,186.2 458.9,182.3 455.7,179.1 450.2,177.5 447.8,175.2 444.6,176.7 439.9,174.4 433.6,171.2 428.8,168.8 425.6,166.5 422.5,164.9 424.9,160.1 428.0,159.3 432.0,162.5 435.1,164.1 435.9,160.9 439.9,157.8 437.5,154.6 436.7,151.4 441.5,149.1 446.2,146.7 451.0,144.3 454.1,143.5 457.3,145.1 462.0,145.9 465.2,144.3 468.4,141.9 469.9,138.8 469.2,135.6 471.5,132.4 474.7,129.3 479.4,126.9 484.2,123.7 488.9,120.6 491.3,119.8 489.7,126.1 488.1,131.6 485.8,137.2 481.8,141.1 477.9,142.7 473.1,145.1 468.4,147.5 464.4,150.6 462.0,154.6 465.2,153.8 468.4,151.4 470.7,152.2 469.9,154.6 473.1,155.4 477.9,153.8 481.8,150.6 487.4,150.6 491.3,154.6 494.0,156.2"/>
<polyline points="433.2,182.0 435.5,180.4 437.8,181.3 436.4,183.2 433.9,183.4 433.2,182.0"/>
<polyline points="418.5,155.1 420.9,154.4 423.3,155.7 420.9,156.3 418.5,155.1"/>
<polyline points="427.2,111.4 428.5,111.1 428.5,112.3 427.2,112.3 427.2,111.4"/>
<polyline points="451.3,116.1 452.9,115.8 452.9,117.4 451.3,117.1 451.3,116.1"/>
<polyline points="494.6,118.2 490.6,119.8 489.8,125.3 488.2,131.6 485.9,138.0 482.7,141.1 478.7,143.5 474.0,145.1"/>
<polyline points="474.0,154.6 478.7,152.2 482.7,149.8 486.7,151.4 488.2,154.6 493.0,157.0 497.7,159.3 502.5,160.9 508.8,160.1 515.1,159.3 521.5,158.5 523.1,155.4 521.5,152.2 519.1,150.6 516.7,147.5 513.6,146.7 512.0,145.1 514.3,141.1 517.5,136.4 519.9,133.2"/>
<polyline points="516.7,143.5 519.9,141.1 523.1,138.0 524.9,136.1"/>
<polyline points="297.2,225.6 300.3,224.0 305.1,222.4 309.0,221.6 308.2,224.0 303.5,225.6 299.5,227.2 297.2,225.6"/>
<polyline points="298.7,229.2 303.5,227.2 309.8,226.1 310.6,228.0 305.9,229.6 301.1,230.8 298.7,229.2"/>
<polyline points="321.2,219.3 324.1,219.7 327.5,222.4 326.4,223.5 323.3,221.6 321.2,219.3"/>
<polyline points="333.6,206.6 336.4,209.0 337.0,212.2 334.8,213.7 333.9,210.6 333.6,206.6"/>
<polyline points="344.6,201.9 347.8,201.1 349.4,205.8 347.8,210.6 348.6,214.5 346.2,215.3 344.9,210.6 345.4,205.8 344.6,201.9"/>
<polyline points="334.3,291.3 336.7,283.4 341.5,278.6 346.2,273.9 344.6,269.1 341.5,264.4 343.1,262.0 342.3,258.0 344.6,256.5 346.2,260.4 348.6,257.2 352.5,254.9 355.7,252.5 353.3,250.1 348.6,250.9 346.2,251.7 344.6,247.8 341.5,243.8 337.5,239.8 333.6,237.5 328.0,238.3 322.5,241.4 320.1,247.0 317.7,253.3 315.4,258.0 314.6,262.0 308.2,263.6 301.9,268.3 302.7,270.7 305.9,272.3 311.4,271.5 317.7,272.3 322.5,270.7 326.4,269.9 329.6,267.5 335.1,266.7 340.7,264.4"/>
<polyline points="398.3,190.0 393.6,191.6 388.8,193.2 385.6,196.3 384.9,201.1 382.5,205.0 377.7,206.6 376.2,209.8 371.4,212.2 368.2,215.3 365.9,218.5 363.5,222.4 367.4,224.0 368.2,228.0 365.1,231.1 361.9,234.3 360.3,237.5 363.5,239.1 368.2,237.5 371.4,240.6 368.2,243.8 363.5,246.2 359.5,249.3 361.9,251.7 366.7,250.1 369.8,252.5 366.7,254.9 361.9,256.5 357.2,255.7 354.0,257.2"/>
<polyline points="381.8,211.5 385.1,210.4 387.9,211.5 390.1,214.3 391.2,216.5 389.6,219.3 387.3,221.5 384.6,222.0 383.5,219.3 382.4,215.9 381.3,213.7 381.8,211.5"/>
<polyline points="366.3,215.9 368.5,214.3 370.2,212.6 372.4,212.1 374.6,209.8 377.4,208.2 379.0,206.5 380.1,209.3 380.7,212.6 378.5,215.9 376.3,216.5 375.2,219.3 373.5,218.1 371.8,216.2 369.1,216.5 368.0,218.1 367.4,222.6 368.0,225.3 366.9,228.1 368.5,230.3 371.8,230.9 374.6,229.2 377.9,228.7 380.7,229.8 382.1,231.4 380.7,228.1 381.8,225.0 383.2,222.6 382.1,219.8 380.7,217.6"/>
<polyline points="387.3,225.3 390.1,223.1 393.4,221.5 396.8,219.3 397.9,222.6 399.0,225.9 400.1,229.2 399.0,232.0 396.2,232.5 393.4,230.9 390.7,231.4 387.9,229.8 387.0,227.6 387.3,225.3"/>
<polyline points="390.1,225.3 392.3,224.2 394.5,225.3 393.4,227.6 390.7,228.1 390.1,225.3"/>
<polyline points="395.1,222.6 396.8,222.0 397.3,224.8 395.7,225.3 395.1,222.6"/>
<polyline points="394.5,228.7 396.8,228.1 397.9,230.3 395.7,231.2 394.5,228.7"/>
<polyline points="374.1,235.9 376.8,233.7 380.1,234.2 381.8,236.4 381.3,239.2 378.5,240.3 375.7,239.7 374.6,237.9 374.1,235.9"/>
<polyline points="386.2,235.3 389.0,234.2 392.3,234.8 392.9,237.5 390.1,239.2 386.8,238.6 386.2,235.3"/>
<polyline points="395.1,237.5 397.3,235.9 400.6,236.4 401.2,239.2 398.4,240.3 395.7,239.7 395.1,237.5"/>
<polyline points="375.7,241.4 379.0,240.9 381.8,242.0 381.3,244.7 377.9,245.3 375.7,243.8 375.7,241.4"/>
<polyline points="384.6,241.4 387.3,240.3 390.1,241.4 390.7,244.7 389.0,247.5 385.7,246.9 384.4,244.2 384.6,241.4"/>
<polyline points="359.7,237.5 362.4,235.3 365.8,235.9 366.9,238.1 364.1,239.7 360.8,239.7 359.7,237.5"/>
<polyline points="394.0,243.1 396.8,240.9 400.6,240.3 404.5,242.5 407.8,244.7 411.2,248.0 413.4,251.4 414.5,255.2 412.8,258.0 409.5,257.5 406.7,255.8 405.1,252.5 403.4,249.2 400.6,248.0 397.9,247.5 395.1,245.8 394.0,243.1"/>
<polyline points="402.9,245.8 405.1,247.5 406.2,250.8 404.5,251.9 403.4,248.6 402.9,245.8"/>
<polyline points="358.0,249.2 361.3,247.5 364.6,245.8 368.0,244.7 371.3,245.8 374.6,246.9 377.9,248.0 380.7,250.3 381.8,253.6 380.1,256.4 377.9,257.5 378.5,260.2 376.8,262.4 375.7,266.0"/>
<polyline points="358.0,255.8 361.3,254.7 364.1,256.4 362.4,258.6 359.1,259.1 358.0,255.8"/>
<polyline points="360.2,262.4 363.5,261.3 365.8,263.0 364.1,265.2 360.8,265.2 360.2,262.4"/>
<polyline points="387.9,248.0 389.6,251.4 389.0,254.7 387.3,257.5 385.7,254.7 386.2,250.8 387.9,248.0"/>
<polyline points="385.1,266.0 386.8,262.4 390.1,259.7 393.4,258.6 396.2,260.2 394.5,263.0 392.3,266.0"/>
<polyline points="363.0,200.4 364.1,198.8 364.9,202.6 364.1,207.1 363.0,205.4 363.0,200.4"/>
<polyline points="365.8,199.9 366.9,198.8 367.4,202.6 366.6,207.1 365.8,204.9 365.8,199.9"/>
<polyline points="368.0,199.3 369.1,198.4 369.3,202.6 368.5,206.0 368.0,199.3"/>
<polyline points="369.8,264.4 374.6,259.6 377.7,256.5 380.9,253.3 385.6,252.5 390.4,251.7 391.2,254.1 387.2,256.5 383.3,259.6 380.1,262.8 379.3,267.5 376.2,272.3 373.0,276.2 369.8,278.6 367.4,283.4 363.5,284.9 358.7,285.7 357.2,283.4 360.3,279.4 363.5,275.4 366.7,270.7 368.2,267.5 369.8,264.4"/>
<polyline points="379.3,290.0 380.1,286.5 383.3,284.1 386.4,281.0 389.6,277.8 392.0,275.4 392.8,270.7 393.6,265.9 394.3,261.2 396.7,257.2 401.5,258.0 407.8,260.4 414.1,262.0 420.5,263.6 425.2,265.9 427.6,270.7 423.6,272.3 426.8,273.9 429.2,276.2 426.8,281.8 423.6,286.5 421.2,290.0"/>
<polyline points="387.3,280.0 384.1,283.2 380.2,286.3 379.4,290.3 374.6,291.9 369.9,295.0 366.7,299.0 364.3,303.7 362.0,309.3 361.2,314.0 362.8,318.8 364.3,321.5 367.5,319.6 371.5,317.2 376.2,314.0 379.4,311.6 383.3,310.9 387.3,311.6 392.0,310.9 397.6,309.3 402.3,310.1 406.3,307.7 409.4,303.7 413.4,300.6 416.6,295.8 418.9,291.1 421.3,286.3 424.0,281.6"/>
<polyline points="405.6,307.4 408.7,305.8 411.9,302.7 415.9,298.7 419.0,294.7 419.8,290.0"/>
<polyline points="401.5,322.7 404.7,320.3 407.9,321.9 411.8,322.7 415.0,325.1 415.8,328.3 412.6,331.4 407.9,332.2 403.9,330.6 401.5,327.5 400.7,325.1 401.5,322.7"/>
<polyline points="343.1,264.2 344.6,270.6 343.1,275.3 339.9,279.3 335.9,282.4 334.3,287.2 338.3,288.8 341.5,290.3 339.1,294.3 335.1,298.3 332.0,303.0 330.4,307.8 331.2,312.5 328.8,317.2 325.6,320.4 320.9,318.0 316.2,317.2"/>
<polyline points="347.0,284.0 348.6,279.3 351.8,278.5 353.3,282.4 355.7,284.0 358.9,279.3 361.2,277.7 362.0,281.6 365.2,283.2 367.6,280.1 366.8,275.3 369.9,272.2 373.9,269.0 376.3,265.0 377.1,260.3 380.2,256.3"/>
<polyline points="315.4,319.6 319.3,317.2 324.1,319.6 323.3,322.8 319.3,324.4 315.4,319.6"/>
<polyline points="444.0,177.1 448.0,175.5 450.3,177.9 455.1,178.7 459.0,181.1 459.8,185.0 463.8,187.4 466.9,190.6 467.7,194.5 470.1,197.7 473.3,199.3 476.4,197.7 479.6,200.9 483.6,202.4 485.5,204.0 484.3,208.0 481.2,208.8 481.2,212.7 483.6,215.1 485.5,217.5 485.9,222.2 487.5,225.4 489.1,228.5 485.9,226.2 482.0,226.2 479.1,228.5 478.0,232.5 479.1,236.5 482.0,238.0 483.6,242.0 485.9,245.9 489.9,248.3 491.5,252.3 492.3,256.2 494.6,257.8 497.0,255.4 497.8,258.6 496.2,261.8 492.3,263.4 489.9,264.9 493.1,266.5 499.4,264.9 505.7,265.7 510.5,268.1 512.0,270.0"/>
<polyline points="460.6,201.6 463.0,200.9 464.6,204.0 467.7,205.6 470.1,207.2 469.3,210.3 466.2,210.3 463.8,207.2 461.4,204.8 460.6,201.6"/>
<polyline points="469.3,201.3 471.2,200.9 471.7,203.5 469.8,203.9 469.3,201.3"/>
<polyline points="465.4,242.8 469.3,239.6 472.5,236.5 475.6,235.7 476.4,238.8 473.3,242.0 470.1,245.2 466.9,244.4 465.4,242.8"/>
<polyline points="459.0,266.5 460.6,262.6 463.0,259.4 464.6,261.0 462.7,264.9 460.6,268.1 459.0,266.5"/>
<polyline points="491.5,254.2 494.6,255.8 497.8,254.2 498.6,257.4 496.2,260.6 492.3,262.2 489.1,263.7 491.5,266.1 496.2,265.3 501.0,264.5 505.7,265.3 509.7,266.9 512.8,269.3 513.6,271.6 511.2,272.4 508.9,270.1 504.9,267.7 501.8,266.9 503.3,270.1 504.9,272.4 502.5,274.0 499.4,276.4 496.2,278.8 493.1,280.3 496.2,280.3 499.4,281.9 497.8,285.1 494.6,287.5 493.8,290.6 494.6,294.6 493.1,297.8 489.9,299.3 486.7,300.1 489.1,302.5 492.3,300.9 494.3,299.3 491.5,303.3 490.7,307.2 491.5,310.4 488.3,312.0 485.1,312.8 481.2,313.6 478.0,312.8"/>
<polyline points="483.6,314.4 486.7,317.5 490.7,316.7 491.5,313.6 487.5,308.8 488.3,305.7 485.9,304.1 482.0,303.3 475.6,304.1 470.1,304.1 464.6,304.9 459.8,308.0 457.4,312.0 455.1,315.9 453.5,320.7 451.9,326.2 450.3,331.8 447.2,336.5 445.6,340.0"/>
<polyline points="476.4,263.7 478.0,262.2 479.6,263.7 479.6,269.3 481.2,274.0 483.6,278.0 486.7,281.1 490.7,281.9 491.5,283.5 488.3,285.1 484.3,283.5 481.2,280.3 478.5,275.6 477.2,270.1 476.4,263.7"/>
<polyline points="444.0,278.8 447.2,276.4 451.1,276.4 451.9,279.6 450.3,282.7 452.7,285.1 451.1,286.7 448.0,285.1 446.4,287.5 444.8,284.3 444.0,278.8"/>
<polyline points="458.2,266.9 460.6,263.7 462.2,259.8 464.6,260.6 463.8,264.5 461.1,268.5 458.2,266.9"/>
<polyline points="489.1,323.9 492.3,323.1 495.4,325.4 493.8,327.3 490.2,326.2 489.1,323.9"/>
<polyline points="485.9,331.5 489.1,330.2 491.5,332.6 489.1,334.5 486.4,333.7 485.9,331.5"/>
<polyline points="492.6,290.0 494.2,294.7 492.6,298.7 490.2,301.9 492.6,305.0 490.2,306.6 486.3,305.0 481.5,304.2 476.0,304.2 470.5,303.4 466.5,305.0 463.3,305.0 460.2,308.2 457.8,311.4 455.4,315.3 453.8,319.3 455.4,321.6 454.6,325.6 452.3,330.3 449.9,335.1 446.7,339.8 444.8,343.8 445.5,348.5 446.7,353.3 449.1,355.7 451.5,354.1 453.8,351.7 456.2,350.9 458.6,354.1 461.0,358.0 462.5,361.2 464.9,362.0 467.3,359.6 468.1,354.9 467.3,350.1 468.9,346.2 469.7,342.2 467.3,339.1 464.9,335.9 464.9,331.1 466.5,326.4 468.1,322.4 471.2,322.4 472.8,325.6 471.2,329.6 470.5,334.3 472.0,338.3 475.2,341.4 479.2,340.6 483.1,338.3 486.3,335.1 490.2,334.3 491.0,331.1 488.7,329.6 486.3,331.9 485.5,335.1 482.3,339.1 479.9,343.0 477.6,345.4 478.4,348.5 481.5,347.8 482.3,350.9 479.9,353.3 477.6,356.5 477.6,360.4 474.4,363.6 470.5,364.4 467.3,366.7 464.9,368.3 461.8,366.7 459.4,364.4 457.8,361.2 455.4,359.6 453.8,362.8 454.6,367.5 452.3,370.7 449.1,373.1 446.7,377.0 443.6,380.2 440.4,383.4 439.6,386.5"/>
<polyline points="478.4,312.9 483.1,313.7 487.9,312.9 490.2,315.3 487.9,317.7 484.7,316.9"/>
<polyline points="490.2,306.6 492.6,309.0 491.8,312.9 494.2,315.3"/>
<polyline points="423.0,356.5 426.9,354.1 430.1,355.7 429.3,359.6 431.7,361.2 430.9,365.2 433.3,369.1 435.6,373.1 438.0,377.0 438.8,381.0 435.6,383.4 430.9,384.1 427.7,384.9 425.4,383.4 427.7,380.2 426.2,377.0 427.7,373.9 426.2,369.9 424.6,365.9 425.4,362.0 423.8,359.6 423.0,356.5"/>
<polyline points="413.5,370.7 416.7,367.5 420.6,366.7 423.0,369.1 422.7,373.9 419.8,377.8 415.9,379.4 412.7,377.8 413.5,374.7 413.5,370.7"/>
</g>
</g>
<circle cx="436.2" cy="246.1" r="141.0" fill="none" stroke="#333" stroke-width="0.9"/>
<clipPath id="c3"><circle cx="289.2" cy="699.1" r="141.0"/></clipPath>
<g clip-path="url(#c3)">
<circle cx="289.2" cy="699.1" r="142.0" fill="#F5E4BE"/>
<polygon fill="#FFA000" stroke="#FFA000" stroke-width="21.0" stroke-linejoin="round" points="169.2,744.4 172.3,739.6 178.6,734.9 185.0,734.1 187.3,738.0 185.8,742.8 181.0,747.5 176.3,752.3 171.5,750.7"/>
<polygon fill="#FFDC00" stroke="#FFDC00" stroke-width="17.0" stroke-linejoin="round" points="169.2,744.4 172.3,739.6 178.6,734.9 185.0,734.1 187.3,738.0 185.8,742.8 181.0,747.5 176.3,752.3 171.5,750.7"/>
<polygon fill="#DEB887" stroke="#DEB887" stroke-width="10.0" stroke-linejoin="round" points="169.2,744.4 172.3,739.6 178.6,734.9 185.0,734.1 187.3,738.0 185.8,742.8 181.0,747.5 176.3,752.3 171.5,750.7"/>
<polygon fill="#F5E4BE" stroke="#F5E4BE" stroke-width="5.2" stroke-linejoin="round" points="169.2,744.4 172.3,739.6 178.6,734.9 185.0,734.1 187.3,738.0 185.8,742.8 181.0,747.5 176.3,752.3 171.5,750.7"/>
<polygon fill="#DEB887" stroke="#DEB887" stroke-width="5.0" stroke-linejoin="round" points="170.8,617.5 184.5,612.5 197.0,613.5 209.5,614.8 219.5,612.2 229.5,607.2 235.8,601.0 240.0,594.2 245.8,589.8 252.0,590.5 257.0,603.0 260.8,609.2 254.5,611.8 247.0,620.0 238.8,624.0 232.5,628.0 226.0,628.8 218.2,631.5 210.2,631.5 202.2,628.8 194.5,625.5 188.2,624.0 178.8,626.0 169.2,631.2 162.8,636.0 154.5,638.0"/>
<polygon fill="#DEB887" stroke="#DEB887" stroke-width="4.0" stroke-linejoin="round" points="247.6,593.3 253.9,589.1 261.8,587.0 274.5,585.4 282.4,584.6 290.3,585.4 296.6,584.6 304.5,584.6 309.3,583.9 315.6,580.7 321.9,576.7 328.3,575.2 328.3,580.7 321.9,580.7 315.6,584.6 309.3,588.6 299.8,588.6 290.3,589.4 280.8,591.0 272.9,595.7 266.6,600.5 265.8,600.5 265.0,594.1 261.0,588.6"/>
<polygon fill="#DEB887" stroke="#DEB887" stroke-width="4.0" stroke-linejoin="round" points="247.6,593.3 253.9,589.1 261.0,588.6 265.0,594.1 265.8,600.5 265.0,608.4 267.3,616.3 268.5,622.6 265.8,628.9 262.6,635.3 257.9,639.2 254.7,635.3 258.6,628.9 261.0,622.6 258.6,616.3 255.5,608.4 250.7,600.5"/>
<polygon fill="#DEB887" stroke="#DEB887" stroke-width="5.0" stroke-linejoin="round" points="250.7,654.3 252.3,644.8 258.6,639.2 263.7,635.3 268.5,641.6 274.5,644.8 281.6,644.0 284.8,635.3 282.4,627.4 281.6,621.0 287.1,617.9 295.0,616.3 296.6,622.6 293.5,628.9 298.2,635.3 306.1,640.0 314.0,644.8 315.6,654.3"/>
<polygon fill="#DEB887" points="293.5,560.9 301.4,562.5 312.4,568.0 314.8,573.6 309.3,579.1 302.9,583.1 296.6,584.6 290.3,585.4 293.5,579.9 295.8,573.6 295.0,567.2"/>
<polygon fill="#DEB887" points="346.3,616.8 351.8,621.5 358.1,623.9 364.5,618.4 370.8,615.2 383.5,612.8 385.0,616.8 377.1,616.8 369.2,620.8 362.9,624.7 356.6,629.5 351.0,634.2 350.2,640.5 346.3,637.4 345.5,629.5 347.1,623.1"/>
<polygon fill="#DEB887" stroke="#DEB887" stroke-width="6.0" stroke-linejoin="round" points="249.8,650.4 256.5,642.8 264.1,637.1 315.3,637.1 318.2,646.6 319.1,658.0 314.4,663.7 307.7,660.8 300.1,658.0 290.6,658.9 281.1,660.8 271.7,661.8 262.2,659.9 254.6,657.0"/>
<polygon fill="#DEB887" points="220.4,663.7 231.8,657.0 247.0,653.2 249.8,650.4 254.6,657.0 262.2,659.9 271.7,661.8 281.1,660.8 290.6,658.9 300.1,658.0 307.7,660.8 314.4,663.7 321.0,665.6 319.1,670.3 311.5,669.4 303.9,665.6 294.4,663.7 284.9,665.6 275.5,667.5 266.0,666.5 256.5,663.7 247.0,660.8 237.5,661.8 229.9,665.6"/>
<polygon fill="#DEB887" points="237.5,701.7 247.0,699.8 256.5,702.6 254.6,706.4 247.0,705.5 239.4,705.8"/>
<polygon fill="#DEB887" stroke="#DEB887" stroke-width="26.0" stroke-linejoin="round" points="188.1,758.6 189.7,749.1 194.5,741.2 202.4,739.6 210.3,741.2 216.6,739.6 226.1,736.5 235.6,733.3 241.9,730.1 244.3,732.5 238.8,736.5 232.4,741.2 227.7,745.9 222.9,750.7 218.2,757.0 215.0,764.9 214.4,768.5 206.5,770.1 197.0,768.5 190.8,770.5 187.0,780.5 182.0,788.0 175.8,783.0 177.0,775.5 187.0,769.2"/>
<polygon fill="#DEB887" points="260.3,781.5 255.5,784.0 247.6,783.0 241.3,785.9 242.9,790.6 249.2,794.6 254.0,800.1 257.9,806.5 260.3,814.4 266.6,817.5 274.5,814.4 277.7,809.6 282.4,806.5 290.4,808.0 298.3,809.6 298.3,841.3 260.3,841.3 257.9,823.9 259.5,815.9 258.7,808.0 254.8,800.9 247.6,794.6 240.5,789.8 235.8,785.9 241.3,783.0 249.2,783.5"/>
<polygon fill="#DEB887" points="151.7,653.3 156.5,653.3 159.7,659.6 167.6,664.4 178.6,662.0 188.1,659.6 194.5,658.0 202.4,658.0 210.3,659.6 216.6,660.4 221.4,664.4 221.4,672.3 216.6,678.6 207.1,681.0 199.2,684.9 197.6,691.3 143.8,691.3"/>
<polygon fill="#DEB887" stroke="#DEB887" stroke-width="3.0" stroke-linejoin="round" points="150.2,654.9 154.1,656.5 158.1,664.4 166.0,670.7 173.9,672.3 183.4,669.9 188.1,663.6 197.6,662.8 207.1,664.4 212.7,667.5 213.5,672.3 210.3,676.2 200.8,677.8 194.5,681.8 192.9,691.3 143.8,691.3"/>
<polygon fill="#DEB887" points="194.5,681.1 200.8,677.9 210.3,674.7 215.0,679.5 210.3,685.8 205.5,692.2 208.7,698.5 213.5,701.6 210.3,708.0 205.5,711.1 202.4,717.5 200.8,725.4 197.6,730.1 196.1,722.2 199.2,715.9 200.0,709.6 197.6,701.6 195.3,696.1 194.5,693.7 192.9,687.4"/>
<polygon fill="#DEB887" points="216.6,722.2 221.4,717.5 226.1,708.0 232.4,706.4 235.6,711.1 232.4,720.6 229.3,727.0 221.4,730.1 215.0,728.5"/>
<polygon fill="#DEB887" points="306.0,792.2 302.8,787.5 307.6,779.6 309.2,771.6 313.9,766.1 323.4,763.7 320.2,766.9 313.9,770.1 310.7,776.4 309.2,784.3"/>
<polygon fill="#DEB887" stroke="#DEB887" stroke-width="4.0" stroke-linejoin="round" points="331.2,735.9 336.0,732.0 342.3,730.4 347.0,732.8 348.6,737.5 345.5,743.9 342.3,750.2 339.1,756.5 340.0,757.4 334.5,761.4 328.1,759.8 321.8,757.4 315.5,759.8 310.7,763.7 307.6,760.6 313.9,755.8 321.8,752.7 320.1,754.9 324.9,748.6 328.1,742.3"/>
<polygon fill="#DEB887" points="386.6,594.6 385.0,600.2 386.6,610.5 387.4,618.4 386.6,629.5 388.2,638.9 391.4,645.3 394.5,651.6 393.3,648.4 388.5,654.7 383.8,661.1 377.5,665.0 368.0,664.2 361.6,669.0 349.0,672.2 342.7,675.3 345.0,683.2 341.9,689.6 344.2,697.5 350.6,694.3 355.3,688.0 361.6,681.6 366.4,684.0 372.7,688.0 376.7,692.7 375.9,702.2 369.6,707.0 375.9,710.1 380.6,718.0 377.5,725.9 371.1,732.3 376.4,720.0 371.6,726.3 368.5,734.2 365.3,743.7 363.7,751.6 359.0,761.1 355.0,769.1 355.8,777.0 352.7,783.3 346.3,786.5 340.0,787.2 334.5,787.5 328.1,787.5 323.4,782.7 318.6,781.1 315.5,784.3 309.2,787.5 304.4,792.2 301.2,793.8 296.5,803.3 293.3,806.5 285.4,809.6 285.4,850.8 460.0,850.0 470.0,560.0"/>
<polygon fill="#F5E4BE" points="309.2,771.6 313.9,766.1 323.4,763.7 334.5,765.3 339.2,768.5 341.6,762.2 344.0,755.8 347.1,747.9 350.3,740.0 366.1,740.0 364.5,746.3 361.4,755.8 358.2,765.3 356.6,774.8 353.5,781.1 347.1,782.7 340.8,783.5 334.5,787.5 328.1,787.5 323.4,782.7 318.6,781.1 315.5,784.3 309.2,787.5 304.4,792.2 301.2,793.8 302.8,787.5 307.6,779.6"/>
<polygon fill="#96BE32" stroke="#96BE32" stroke-width="13.2" stroke-linejoin="round" points="193.2,593.0 204.5,578.0 222.0,570.5 242.0,563.0 257.0,559.2 270.8,565.0 277.5,571.8 275.0,578.0 264.5,580.5 252.0,580.5 242.0,585.5 234.5,585.5 227.0,593.0 219.5,601.8 209.5,604.2 200.8,601.8 195.8,598.0"/>
<polygon fill="#96BE32" points="274.5,559.3 282.4,560.9 289.5,567.2 290.3,574.4 285.5,581.5 276.1,584.6 271.3,579.9 279.2,573.6 277.6,565.7"/>
<polygon fill="#96BE32" points="166.8,642.2 172.3,637.5 184.2,631.5 192.9,632.4 199.2,635.1 205.5,640.6 210.3,646.2 205.5,647.8 197.6,650.9 189.7,652.5 182.6,658.8 175.5,654.1 170.7,650.1 168.4,646.2"/>
<polygon fill="#96BE32" points="246.8,626.6 250.7,621.8 257.1,621.0 254.7,625.8 249.9,628.2"/>
<polygon fill="#96BE32" points="296.6,622.6 301.4,617.1 309.3,616.3 310.9,622.6 309.3,628.2 301.4,626.6"/>
<polygon fill="#96BE32" points="322.5,631.0 328.9,616.0 332.8,615.2 342.3,622.3 339.9,631.0 334.4,640.5 329.7,638.9"/>
<polygon fill="#96BE32" points="355.8,649.7 362.9,637.4 362.1,629.5 369.2,624.7 380.3,617.6 382.7,621.5 381.9,632.6 377.1,637.4 369.2,645.3 362.9,647.7"/>
<polygon fill="#96BE32" points="324.9,602.2 332.8,604.9 330.4,610.5 326.5,607.3"/>
<polygon fill="#96BE32" points="332.0,650.8 339.2,645.3 343.9,648.4 339.2,654.8 337.6,664.3 321.7,664.3 322.5,656.4 328.1,653.2"/>
<polygon fill="#96BE32" points="227.0,667.5 233.7,662.7 247.0,663.7 258.4,667.5 266.0,672.2 267.9,677.0 266.0,682.7 275.5,688.4 288.7,689.3 292.5,688.4 292.5,730.1 288.7,737.7 284.9,745.3 279.2,752.9 275.5,760.5 264.1,760.5 267.9,752.9 273.6,745.3 277.4,737.7 281.1,730.1 282.1,725.4 279.2,718.7 275.5,709.2 269.8,703.6 264.1,701.7 256.5,706.4 249.8,709.2 241.3,714.0 237.5,711.1 228.0,703.6 216.6,701.7 209.0,704.5 205.2,696.0 207.1,684.6 216.6,681.7 222.3,677.0"/>
<polygon fill="#96BE32" points="229.2,753.3 232.3,744.6 237.1,736.7 241.0,728.8 243.4,720.9 248.9,716.1 257.6,712.2 266.3,712.2 275.0,715.0 279.8,720.1 280.6,728.0 278.2,734.3 275.0,740.6 271.9,746.2 267.9,751.7 262.4,758.0 255.3,762.0 246.6,763.6 237.9,762.0 232.0,758.8"/>
<polygon fill="#96BE32" stroke="#96BE32" stroke-width="6.4" stroke-linejoin="round" points="266.4,792.0 267.5,784.0 269.2,775.2 272.5,766.9 277.5,758.0 283.0,750.2 289.1,743.0 294.7,738.1 298.5,735.8 304.1,732.5 308.5,729.8 314.0,727.5 319.6,725.9 325.1,725.9 328.4,727.5 327.9,734.2 326.2,739.7 323.5,744.1 319.6,745.8 316.3,746.4 314.0,749.1 310.7,751.3 307.4,753.6 306.3,757.4 305.4,761.9 303.9,766.3 301.0,771.8 297.2,777.4 293.0,782.9 288.0,787.3 281.9,791.2 275.3,792.9"/>
<polygon fill="#96BE32" points="253.2,785.9 260.3,784.3 264.2,778.0 265.4,787.5 266.6,809.6 271.4,804.9 276.1,799.3 282.4,797.8 290.4,800.1 298.3,803.3 298.3,806.5 290.4,803.3 282.4,800.9 276.1,802.5 272.2,808.0 266.6,812.8 262.7,803.3 261.1,793.8"/>
<polygon fill="#96BE32" points="169.2,744.4 172.3,739.6 178.6,734.9 185.0,734.1 187.3,738.0 185.8,742.8 181.0,747.5 176.3,752.3 171.5,750.7"/>
<polygon fill="#96BE32" points="351.6,754.2 354.2,748.7 358.2,747.1 356.6,752.7 352.7,755.5"/>
<polygon fill="#96BE32" points="279.0,687.7 288.5,685.3 296.4,683.7 301.2,677.4 306.7,676.6 310.6,682.2 317.0,680.6 320.1,674.2 326.5,669.5 331.2,667.1 336.0,669.5 334.4,674.2 336.0,680.6 339.1,686.9 340.7,694.8 342.3,701.1 345.5,707.5 342.3,713.8 341.5,718.5 339.1,721.7 332.8,720.9 328.1,718.5 323.3,721.7 317.0,724.9 310.6,726.5 304.3,723.3 299.6,726.5 294.8,729.6 293.2,724.9 296.4,718.5 299.6,712.2 298.0,707.5 294.8,705.9 288.5,707.5 282.2,709.1 279.0,709.1"/>
<polygon fill="#96BE32" points="324.9,658.4 334.4,658.4 333.6,667.1 328.1,668.7 326.5,664.7"/>
<polygon fill="#F5E4BE" points="277.4,710.2 282.1,706.4 294.4,706.4 297.3,711.1 295.4,718.7 290.6,723.5 284.0,722.5 280.2,716.8"/>
<polygon fill="#F5E4BE" points="284.0,728.2 290.6,725.4 294.4,728.2 290.6,737.7 286.8,745.3 282.1,751.0 280.2,745.3 283.0,737.7"/>
<polygon fill="#96BE32" stroke="#96BE32" stroke-width="1.6" stroke-linejoin="round" points="268.1,758.5 270.9,753.6 273.1,754.7 270.3,760.2"/>
<polygon fill="#96BE32" stroke="#96BE32" stroke-width="1.6" stroke-linejoin="round" points="273.1,751.3 275.8,746.9 278.6,748.6 275.8,753.0"/>
<polygon fill="#96BE32" stroke="#96BE32" stroke-width="1.6" stroke-linejoin="round" points="278.6,744.1 280.8,739.7 283.6,741.4 281.4,745.8"/>
<polygon fill="#96BE32" stroke="#96BE32" stroke-width="1.6" stroke-linejoin="round" points="284.7,738.6 286.4,733.1 289.7,733.6 288.6,739.2"/>
<polygon fill="#BDEE62" stroke="#BDEE62" stroke-width="8.8" stroke-linejoin="round" points="193.2,593.0 204.5,578.0 222.0,570.5 242.0,563.0 257.0,559.2 270.8,565.0 277.5,571.8 275.0,578.0 264.5,580.5 252.0,580.5 242.0,585.5 234.5,585.5 227.0,593.0 219.5,601.8 209.5,604.2 200.8,601.8 195.8,598.0"/>
<polygon fill="#BDEE62" points="274.5,560.9 280.0,562.5 285.9,567.6 286.3,573.6 282.4,579.1 274.5,582.3 272.9,578.3 280.0,573.6 277.9,566.4"/>
<polygon fill="#FFDC00" points="170.8,617.5 184.5,612.5 197.0,613.5 209.5,614.8 219.5,612.2 229.5,607.2 235.8,601.0 240.0,594.2 245.8,589.8 252.0,590.5 257.0,603.0 260.8,609.2 254.5,611.8 247.0,620.0 238.8,624.0 232.5,628.0 226.0,628.8 218.2,631.5 210.2,631.5 202.2,628.8 194.5,625.5 188.2,624.0 178.8,626.0 169.2,631.2 162.8,636.0 154.5,638.0"/>
<polygon fill="#FFDC00" points="247.6,593.3 253.9,589.1 261.8,587.0 274.5,585.4 282.4,584.6 290.3,585.4 296.6,584.6 304.5,584.6 309.3,583.9 315.6,580.7 321.9,576.7 328.3,575.2 328.3,580.7 321.9,580.7 315.6,584.6 309.3,588.6 299.8,588.6 290.3,589.4 280.8,591.0 272.9,595.7 266.6,600.5 265.8,600.5 265.0,594.1 261.0,588.6"/>
<polygon fill="#FFDC00" points="247.6,593.3 253.9,589.1 261.0,588.6 265.0,594.1 265.8,600.5 265.0,608.4 267.3,616.3 268.5,622.6 265.8,628.9 262.6,635.3 257.9,639.2 254.7,635.3 258.6,628.9 261.0,622.6 258.6,616.3 255.5,608.4 250.7,600.5"/>
<polygon fill="#FFDC00" points="250.7,654.3 252.3,644.8 258.6,639.2 263.7,635.3 268.5,641.6 274.5,644.8 281.6,644.0 284.8,635.3 282.4,627.4 281.6,621.0 287.1,617.9 295.0,616.3 296.6,622.6 293.5,628.9 298.2,635.3 306.1,640.0 314.0,644.8 315.6,654.3"/>
<polygon fill="#FFDC00" points="287.1,557.7 296.6,560.1 306.1,562.5 315.6,565.7 323.5,567.2 328.3,568.0 328.3,575.2 321.9,576.7 315.6,580.7 309.3,583.9 304.5,584.6 309.3,579.1 314.8,573.6 312.4,568.0 301.4,562.5 293.5,560.9"/>
<polygon fill="#FFDC00" points="330.4,602.6 336.0,611.3 343.9,616.0 351.0,620.0 357.3,622.3 364.5,615.2 370.0,608.9 373.2,603.3 381.9,601.0 389.0,602.6 386.6,597.0 380.3,598.6 371.6,601.0 367.6,607.3 362.9,612.8 356.6,618.4 351.0,616.0 344.7,612.8 337.6,608.9 332.0,601.0"/>
<polygon fill="#FFDC00" points="249.8,650.4 256.5,642.8 264.1,637.1 315.3,637.1 318.2,646.6 319.1,658.0 314.4,663.7 307.7,660.8 300.1,658.0 290.6,658.9 281.1,660.8 271.7,661.8 262.2,659.9 254.6,657.0"/>
<polygon fill="#BDEE62" points="233.7,664.6 247.0,665.6 256.5,669.4 262.2,675.1 264.1,682.7 261.2,690.3 266.0,696.0 269.8,701.7 266.0,704.5 258.4,701.7 252.7,696.0 247.0,697.9 237.5,696.0 228.0,697.9 220.4,699.8 214.7,696.0 210.9,690.3 209.0,686.5 209.0,682.7 216.6,681.7 222.3,677.0 226.1,671.3"/>
<polygon fill="#BDEE62" points="230.7,752.5 233.9,745.4 238.6,737.5 242.6,729.6 245.0,721.6 249.7,717.7 257.6,713.7 265.5,713.7 273.5,716.1 278.2,720.9 279.0,727.2 276.6,732.7 273.5,739.1 270.3,744.6 266.3,750.1 260.8,756.5 254.5,760.4 246.6,762.0 238.6,760.4 233.1,757.2"/>
<polygon fill="#BDEE62" stroke="#BDEE62" stroke-width="4.4" stroke-linejoin="round" points="266.4,792.0 267.5,784.0 269.2,775.2 272.5,766.9 277.5,758.0 283.0,750.2 289.1,743.0 294.7,738.1 298.5,735.8 304.1,732.5 308.5,729.8 314.0,727.5 319.6,725.9 325.1,725.9 328.4,727.5 327.9,734.2 326.2,739.7 323.5,744.1 319.6,745.8 316.3,746.4 314.0,749.1 310.7,751.3 307.4,753.6 306.3,757.4 305.4,761.9 303.9,766.3 301.0,771.8 297.2,777.4 293.0,782.9 288.0,787.3 281.9,791.2 275.3,792.9"/>
<polygon fill="#BDEE62" points="257.1,785.9 263.5,787.5 265.0,779.6 267.4,782.7 269.0,802.0 272.9,797.3 279.3,794.6 288.8,796.2 298.3,796.2 298.3,803.3 290.4,800.1 282.4,797.8 276.1,799.3 271.4,804.9 266.6,809.6 265.0,800.1 263.5,792.2"/>
<polygon fill="#FFDC00" stroke="#FFDC00" stroke-width="22.0" stroke-linejoin="round" points="188.1,758.6 189.7,749.1 194.5,741.2 202.4,739.6 210.3,741.2 216.6,739.6 226.1,736.5 235.6,733.3 241.9,730.1 244.3,732.5 238.8,736.5 232.4,741.2 227.7,745.9 222.9,750.7 218.2,757.0 215.0,764.9 214.4,768.5 206.5,770.1 197.0,768.5 190.8,770.5 187.0,780.5 182.0,788.0 175.8,783.0 177.0,775.5 187.0,769.2"/>
<polygon fill="#FFDC00" points="263.5,763.7 267.4,774.0 260.3,781.5 249.2,783.5 241.3,783.0 235.8,785.9 240.5,789.8 247.6,794.6 254.8,800.9 258.7,808.0 259.5,815.9 257.9,823.9 260.3,841.3 252.4,838.1 251.1,822.3 252.4,814.4 253.2,806.5 249.2,798.5 241.3,792.2 234.2,787.5 230.2,784.3 232.6,782.4 237.8,780.7 244.5,781.5 254.8,780.3 261.9,774.0 259.5,766.1"/>
<polygon fill="#FFDC00" points="150.2,654.9 154.1,656.5 158.1,664.4 166.0,670.7 173.9,672.3 183.4,669.9 188.1,663.6 197.6,662.8 207.1,664.4 212.7,667.5 213.5,672.3 210.3,676.2 200.8,677.8 194.5,681.8 192.9,691.3 143.8,691.3"/>
<polygon fill="#FFDC00" points="156.5,673.2 166.0,668.4 213.5,668.4 210.3,674.7 200.8,677.9 194.5,681.1 192.9,687.4 194.5,693.7 190.5,690.6 185.8,684.2 179.4,681.9 170.7,686.6 161.2,684.2 156.5,679.5"/>
<polygon fill="#BDEE62" points="173.1,744.4 177.9,739.6 182.6,737.2 184.2,740.4 180.2,744.4 175.5,748.3"/>
<polygon fill="#FFDC00" points="199.2,703.2 204.0,700.1 207.1,704.0 202.4,711.1 200.0,708.8"/>
<polygon fill="#FFDC00" points="222.9,723.8 226.1,714.3 229.3,708.8 231.7,711.1 229.3,719.1 226.1,725.4"/>
<polygon fill="#FFDC00" points="331.2,735.9 336.0,732.0 342.3,730.4 347.0,732.8 348.6,737.5 345.5,743.9 342.3,750.2 339.1,756.5 340.0,757.4 334.5,761.4 328.1,759.8 321.8,757.4 315.5,759.8 310.7,763.7 307.6,760.6 313.9,755.8 321.8,752.7 320.1,754.9 324.9,748.6 328.1,742.3"/>
<polygon fill="#FFDC00" points="254.0,841.3 256.3,833.4 260.3,825.4 266.6,818.3 276.1,812.0 284.0,810.4 291.9,812.0 298.3,812.8 298.3,841.3"/>
<polygon fill="#FFDC00" points="387.4,595.4 389.0,602.6 390.1,610.5 389.8,620.0 391.4,629.5 394.5,637.4 396.1,645.3 397.7,653.2 399.6,648.4 396.5,656.3 393.3,664.2 390.1,670.6 387.0,678.5 384.6,688.0 380.6,699.1 384.6,707.0 387.0,716.5 385.4,725.9 379.1,730.7 374.3,735.4 370.3,741.8 385.9,720.0 381.1,726.3 375.6,732.7 371.6,740.6 370.9,748.5 369.3,758.0 366.1,767.5 363.7,775.4 362.2,783.3 355.8,789.6 347.9,792.0 340.0,794.4 331.3,794.6 326.6,793.8 324.2,787.5 325.0,779.6 322.6,775.6 319.4,778.8 318.6,785.9 317.9,790.6 315.5,785.9 309.2,788.3 304.4,793.0 301.2,794.6 298.1,800.1 296.5,803.3 291.7,809.6 285.4,814.4 285.4,850.8 460.0,850.0 470.0,560.0"/>
<polygon fill="#BDEE62" points="300.4,701.1 304.3,696.4 310.6,693.2 318.6,688.5 326.5,683.7 331.2,682.2 332.8,688.5 336.0,690.1 339.1,698.0 342.3,705.9 343.9,710.6 339.1,713.8 331.2,715.4 324.9,714.6 321.7,710.6 319.3,714.6 317.0,720.1 310.6,721.7 305.9,718.5 303.5,712.2 301.2,707.5"/>
<polygon fill="#BDEE62" points="268.1,758.5 270.9,753.6 273.1,754.7 270.3,760.2"/>
<polygon fill="#BDEE62" points="273.1,751.3 275.8,746.9 278.6,748.6 275.8,753.0"/>
<polygon fill="#BDEE62" points="278.6,744.1 280.8,739.7 283.6,741.4 281.4,745.8"/>
<polygon fill="#BDEE62" points="284.7,738.6 286.4,733.1 289.7,733.6 288.6,739.2"/>
<polygon fill="#FFDC00" points="291.7,731.4 293.6,730.9 294.1,735.8 292.1,736.4"/>
<polygon fill="#20B2AA" stroke="#20B2AA" stroke-width="4.4" stroke-linejoin="round" points="193.2,593.0 204.5,578.0 222.0,570.5 242.0,563.0 257.0,559.2 270.8,565.0 277.5,571.8 275.0,578.0 264.5,580.5 252.0,580.5 242.0,585.5 234.5,585.5 227.0,593.0 219.5,601.8 209.5,604.2 200.8,601.8 195.8,598.0"/>
<polygon fill="#20B2AA" points="227.0,590.2 231.7,584.6 236.5,579.9 244.4,579.1 250.7,580.7 247.6,583.9 241.2,587.0 234.9,591.0 227.0,594.5"/>
<polygon fill="#20B2AA" points="274.5,562.8 278.4,564.1 282.1,568.0 282.4,573.3 279.2,577.1 273.7,579.6 274.5,575.2 277.9,572.0 277.3,567.2"/>
<polygon fill="#FFA000" points="162.8,629.6 167.6,621.6 173.9,617.7 179.4,619.3 177.1,624.0 170.7,628.0 166.0,633.5"/>
<polygon fill="#FFA000" stroke="#FFA000" stroke-width="8.0" stroke-linejoin="round" points="208.2,620.0 217.0,616.0 227.0,612.2 234.5,607.2 240.8,608.5 242.0,614.2 237.0,620.5 227.0,624.2 217.0,624.2 210.8,623.0"/>
<polygon fill="#FFA000" stroke="#FFA000" stroke-width="7.2" stroke-linejoin="round" points="266.6,600.5 272.9,595.7 280.8,591.0 290.3,589.4 299.8,588.6 309.3,588.6 315.6,584.6 321.9,580.7 328.3,578.3 337.8,572.0 337.8,595.7 328.3,595.7 321.9,598.9 315.6,600.5 309.3,599.7 304.5,600.5 301.4,603.6 296.6,606.0 290.3,608.4 285.5,611.5 280.8,614.7 279.2,621.0 281.6,627.4 282.4,635.3 280.8,642.4 274.5,644.0 268.1,641.6 264.2,638.4 265.0,632.1 268.1,625.8 269.7,619.5 268.5,614.7 266.6,608.4"/>
<polygon fill="#FFA000" points="301.4,557.7 312.4,562.5 321.9,564.9 328.3,565.7 328.3,556.2 306.1,553.0"/>
<polygon fill="#FFA000" points="257.1,654.3 258.6,646.4 263.4,642.4 274.5,645.6 281.6,644.8 284.0,638.4 282.4,630.5 287.1,632.1 290.3,636.9 298.2,641.6 306.1,644.0 310.9,647.9 309.3,654.3"/>
<polygon fill="#FFA000" points="257.0,644.2 264.5,638.0 272.0,641.8 282.0,646.0 297.0,643.5 307.0,640.5 312.0,656.0 294.5,653.5 287.0,656.8 277.0,655.5 267.0,655.5 258.2,653.0"/>
<polygon fill="#FFA000" points="332.0,601.0 337.6,608.9 344.7,612.8 351.0,616.0 356.6,618.4 362.9,612.8 367.6,607.3 371.6,601.0 380.3,598.6 386.6,597.0 385.0,597.0 377.1,597.0 370.8,598.6 366.1,604.1 362.1,610.5 356.6,616.0 351.8,613.3 345.5,610.5 338.4,606.5 332.8,599.4"/>
<polygon fill="#FFA000" points="257.4,648.5 264.1,642.8 315.3,640.9 313.4,648.5 309.6,655.1 300.1,653.2 292.5,655.1 284.9,657.0 275.5,658.0 266.0,656.1 259.3,654.2"/>
<polygon fill="#20B2AA" points="245.1,674.1 249.8,672.2 253.6,676.0 251.7,679.8 247.0,679.3"/>
<polygon fill="#20B2AA" points="249.8,687.4 255.5,685.5 258.7,690.3 256.5,694.1 251.7,693.1"/>
<polygon fill="#20B2AA" points="212.8,684.6 218.5,682.7 220.8,686.5 216.6,688.7 213.2,688.0"/>
<polygon fill="#20B2AA" points="210.9,712.1 215.6,710.2 218.5,714.0 215.6,716.8 211.3,715.9"/>
<polygon fill="#20B2AA" points="233.1,751.7 236.3,745.4 240.2,738.3 244.2,729.6 246.6,722.4 251.3,719.3 258.4,715.6 265.5,715.3 272.7,717.2 276.6,721.6 277.4,727.2 275.0,732.4 271.1,737.5 267.9,737.5 261.6,735.9 257.6,739.1 256.1,743.8 259.2,747.0 256.1,752.5 251.3,756.5 246.6,758.8 240.2,758.4 235.5,755.7"/>
<polygon fill="#20B2AA" stroke="#20B2AA" stroke-width="2.4" stroke-linejoin="round" points="266.4,792.0 267.5,784.0 269.2,775.2 272.5,766.9 277.5,758.0 283.0,750.2 289.1,743.0 294.7,738.1 298.5,735.8 304.1,732.5 308.5,729.8 314.0,727.5 319.6,725.9 325.1,725.9 328.4,727.5 327.9,734.2 326.2,739.7 323.5,744.1 319.6,745.8 316.3,746.4 314.0,749.1 310.7,751.3 307.4,753.6 306.3,757.4 305.4,761.9 303.9,766.3 301.0,771.8 297.2,777.4 293.0,782.9 288.0,787.3 281.9,791.2 275.3,792.9"/>
<polygon fill="#20B2AA" points="263.9,788.5 266.3,786.1 273.4,782.9 284.5,785.3 295.5,782.9 299.5,786.1 301.1,790.1 297.9,798.0 292.4,800.3 284.5,798.8 275.0,798.8 268.6,800.3 264.7,794.0"/>
<polygon fill="#20B2AA" points="264.2,787.5 265.8,778.0 268.2,778.0 269.0,782.7 272.9,785.9 279.3,787.5 288.8,787.5 298.3,785.9 298.3,796.2 288.8,796.2 279.3,794.6 272.9,797.3 269.0,802.0 267.4,793.8"/>
<polygon fill="#FFA000" stroke="#FFA000" stroke-width="16.0" stroke-linejoin="round" points="188.1,758.6 189.7,749.1 194.5,741.2 202.4,739.6 210.3,741.2 216.6,739.6 226.1,736.5 235.6,733.3 241.9,730.1 244.3,732.5 238.8,736.5 232.4,741.2 227.7,745.9 222.9,750.7 218.2,757.0 215.0,764.9 214.4,768.5 206.5,770.1 197.0,768.5 190.8,770.5 187.0,780.5 182.0,788.0 175.8,783.0 177.0,775.5 187.0,769.2"/>
<polygon fill="#FFA000" points="259.5,766.1 261.9,774.0 254.8,780.3 244.5,781.5 237.8,780.7 232.6,782.4 230.2,784.3 234.2,787.5 241.3,792.2 249.2,798.5 253.2,806.5 252.4,814.4 251.1,822.3 252.4,838.1 250.0,836.5 248.9,822.3 250.5,814.4 251.1,806.5 247.6,799.3 239.7,793.0 232.6,788.3 227.9,783.5 231.0,780.8 237.3,778.8 244.5,779.6 253.2,778.8 259.5,774.0"/>
<polygon fill="#FFA000" points="148.6,665.9 150.2,667.5 156.5,675.4 164.4,680.2 172.3,681.8 178.6,680.2 183.4,683.4 188.9,691.3 143.8,691.3"/>
<polygon fill="#FFA000" points="147.0,670.0 151.7,673.2 156.5,679.5 161.2,684.2 153.3,679.5 149.4,674.7"/>
<polygon fill="#FFA000" points="151.7,729.3 156.5,732.5 164.4,731.7 173.9,729.3 183.4,728.5 191.3,727.0 194.5,733.3 189.7,734.9 183.4,732.5 175.5,733.3 167.6,736.5 161.2,739.6 156.5,736.5"/>
<polygon fill="#FFA000" points="332.8,739.1 337.5,735.9 342.3,735.9 343.1,740.7 339.9,747.0 336.0,753.4 336.8,752.7 332.9,758.2 326.6,756.6 318.6,756.6 310.7,759.8 317.1,755.8 325.0,751.9 324.9,753.4 329.6,745.4"/>
<polygon fill="#FFA000" points="285.4,820.7 291.7,822.3 299.7,825.4 307.6,822.3 314.7,818.3 318.6,822.3 317.1,828.6 318.6,834.9 317.9,841.3 285.4,841.3"/>
<polygon fill="#FFA000" points="257.9,841.3 259.5,833.4 263.5,827.0 269.8,820.7 277.7,815.9 285.6,814.4 291.9,817.5 298.3,819.1 298.3,841.3"/>
<polygon fill="#FFA000" points="389.8,597.0 392.2,607.3 392.9,615.2 393.7,624.7 396.1,632.6 399.3,638.9 400.9,646.9 402.4,653.2 404.4,648.4 401.2,659.5 398.0,667.4 394.9,675.3 392.5,683.2 390.1,691.1 387.0,697.5 389.3,703.8 392.5,713.3 393.3,722.8 390.1,729.1 383.8,733.9 377.5,738.6 393.0,720.0 390.6,727.9 387.5,735.8 385.9,742.2 378.0,746.1 373.2,748.5 372.4,758.0 373.2,765.9 371.6,773.8 368.5,783.3 363.7,792.8 355.8,795.9 347.9,794.4 340.0,797.5 336.1,798.5 334.5,803.3 336.1,809.6 332.9,815.9 339.2,823.9 340.8,830.2 344.0,841.3 460.0,850.0 470.0,560.0"/>
<polygon fill="#20B2AA" points="309.9,700.3 314.6,697.2 321.7,698.0 329.6,699.6 335.2,702.7 334.4,706.7 328.1,706.7 321.7,705.1 313.8,704.6 310.6,703.0"/>
<polygon fill="#20B2AA" points="307.5,710.6 310.6,709.1 317.0,712.2 317.8,716.2 313.0,719.3 309.1,716.2"/>
<polygon fill="#B0E0E6" points="193.2,593.0 204.5,578.0 222.0,570.5 242.0,563.0 257.0,559.2 270.8,565.0 277.5,571.8 275.0,578.0 264.5,580.5 252.0,580.5 242.0,585.5 234.5,585.5 227.0,593.0 219.5,601.8 209.5,604.2 200.8,601.8 195.8,598.0"/>
<polygon fill="#FF4500" points="164.4,627.2 169.2,621.6 173.1,620.9 170.7,624.8 166.8,629.6"/>
<polygon fill="#FF4500" stroke="#FF4500" stroke-width="4.0" stroke-linejoin="round" points="208.2,620.0 217.0,616.0 227.0,612.2 234.5,607.2 240.8,608.5 242.0,614.2 237.0,620.5 227.0,624.2 217.0,624.2 210.8,623.0"/>
<polygon fill="#FF4500" stroke="#FF4500" stroke-width="3.6" stroke-linejoin="round" points="266.6,600.5 272.9,595.7 280.8,591.0 290.3,589.4 299.8,588.6 309.3,588.6 315.6,584.6 321.9,580.7 328.3,578.3 337.8,572.0 337.8,595.7 328.3,595.7 321.9,598.9 315.6,600.5 309.3,599.7 304.5,600.5 301.4,603.6 296.6,606.0 290.3,608.4 285.5,611.5 280.8,614.7 279.2,621.0 281.6,627.4 282.4,635.3 280.8,642.4 274.5,644.0 268.1,641.6 264.2,638.4 265.0,632.1 268.1,625.8 269.7,619.5 268.5,614.7 266.6,608.4"/>
<polygon fill="#FF4500" points="279.5,651.0 284.0,650.0 285.8,654.2 280.8,655.5"/>
<polygon fill="#FF4500" points="332.8,599.4 338.4,606.5 345.5,610.5 351.8,613.3 356.6,616.0 362.1,610.5 366.1,605.7 361.3,608.9 356.6,613.6 351.8,611.3 345.5,608.9 339.2,605.7 334.4,599.4"/>
<polygon fill="#FF4500" points="278.9,651.3 283.4,650.0 285.3,654.2 281.1,656.1"/>
<polygon fill="#B0E0E6" points="260.3,699.8 265.0,698.8 266.9,705.5 264.1,710.2 260.6,706.4"/>
<polygon fill="#B0E0E6" points="235.5,750.9 238.6,745.4 242.6,739.1 245.8,731.1 248.5,724.0 252.9,720.9 259.2,717.7 265.5,717.2 271.9,719.3 275.0,723.2 273.5,727.2 267.9,728.8 262.4,730.3 257.6,734.3 254.5,740.6 252.9,745.4 254.5,749.3 250.5,753.3 245.8,755.7 240.2,755.2 236.7,753.3"/>
<polygon fill="#B0E0E6" points="266.4,792.0 267.5,784.0 269.2,775.2 272.5,766.9 277.5,758.0 283.0,750.2 289.1,743.0 294.7,738.1 298.5,735.8 304.1,732.5 308.5,729.8 314.0,727.5 319.6,725.9 325.1,725.9 328.4,727.5 327.9,734.2 326.2,739.7 323.5,744.1 319.6,745.8 316.3,746.4 314.0,749.1 310.7,751.3 307.4,753.6 306.3,757.4 305.4,761.9 303.9,766.3 301.0,771.8 297.2,777.4 293.0,782.9 288.0,787.3 281.9,791.2 275.3,792.9"/>
<polygon fill="#B0E0E6" points="266.3,786.9 273.4,783.7 284.5,786.1 295.5,783.7 299.0,786.9 295.5,793.5 284.5,795.1 273.4,793.5 267.9,791.6"/>
<polygon fill="#FF4500" stroke="#FF4500" stroke-width="13.6" stroke-linejoin="round" points="188.1,758.6 189.7,749.1 194.5,741.2 202.4,739.6 210.3,741.2 216.6,739.6 226.1,736.5 235.6,733.3 241.9,730.1 244.3,732.5 238.8,736.5 232.4,741.2 227.7,745.9 222.9,750.7 218.2,757.0 215.0,764.9 214.4,768.5 206.5,770.1 197.0,768.5 190.8,770.5 187.0,780.5 182.0,788.0 175.8,783.0 177.0,775.5 187.0,769.2"/>
<polygon fill="#FF4500" points="257.1,766.9 259.5,774.0 253.2,778.8 244.5,779.6 237.3,778.8 231.0,780.8 227.9,783.5 232.6,788.3 239.7,793.0 247.6,799.3 251.1,806.5 250.5,814.4 248.9,822.3 250.0,836.5 244.5,836.5 247.6,822.3 248.4,814.4 249.2,806.5 246.1,800.1 238.1,793.8 231.0,789.1 225.5,783.5 228.6,779.6 236.6,777.2 244.5,778.0 252.4,777.2 257.9,774.0"/>
<polygon fill="#FF4500" points="147.0,670.7 149.4,672.3 153.3,680.2 159.7,684.9 167.6,684.9 172.3,682.6 178.6,682.6 183.4,686.5 185.0,691.3 143.8,691.3"/>
<polygon fill="#FF4500" points="149.4,674.7 153.3,679.5 161.2,684.2 170.7,686.6 179.4,681.9 185.8,684.2 190.5,690.6 195.3,696.1 197.6,701.6 200.0,709.6 199.2,715.9 196.1,722.2 191.3,726.2 183.4,727.8 173.9,728.5 164.4,730.9 156.5,731.7 151.7,728.5 148.6,722.2 145.4,709.6 145.4,685.8 145.4,670.0"/>
<polygon fill="#FF4500" points="334.5,812.8 339.2,809.6 342.4,812.0 339.2,815.9 335.3,816.3"/>
<polygon fill="#FF4500" points="331.2,748.6 334.4,745.4 336.0,748.6 332.8,754.9 334.5,749.5 332.1,754.2 326.6,755.0 319.4,755.0 325.8,751.1 326.5,753.4"/>
<polygon fill="#FF4500" points="285.4,823.9 294.9,825.4 301.2,828.6 307.6,825.4 313.9,820.7 316.3,825.4 315.5,834.9 316.3,841.3 285.4,841.3"/>
<polygon fill="#FF4500" points="260.3,841.3 261.9,833.4 266.6,828.6 272.9,822.3 279.3,819.1 285.6,819.1 291.9,822.3 298.3,823.9 298.3,841.3"/>
<polygon fill="#FF4500" points="391.4,598.6 393.7,609.7 395.3,616.8 396.1,624.7 399.3,631.0 403.2,637.4 405.6,645.3 406.4,653.2 407.5,648.4 404.4,657.9 401.2,665.8 399.6,673.7 398.0,681.6 399.6,688.0 403.6,693.5 398.0,697.5 394.9,702.2 396.5,710.1 398.8,718.0 399.6,725.9 396.5,732.3 394.9,738.6 396.2,720.0 394.6,727.9 393.8,735.8 393.0,743.7 389.1,750.1 387.5,755.6 378.8,752.4 377.2,754.0 379.6,761.1 382.7,767.5 381.9,775.4 378.8,783.3 379.6,789.6 381.9,795.9 379.6,802.3 371.6,808.6 363.7,814.9 360.6,821.3 460.0,850.0 470.0,560.0"/>
<polygon fill="#FFA000" points="164.4,699.3 170.7,697.7 177.1,698.5 176.3,701.3 166.0,701.6"/>
<polygon fill="#789BF2" points="201.5,593.0 208.2,585.5 220.8,583.0 219.5,590.5 213.2,599.2 205.8,600.5"/>
<polygon fill="#789BF2" points="242.8,571.2 249.2,566.9 261.0,566.0 264.2,568.8 258.6,572.8 250.7,574.4 244.4,573.6"/>
<polygon fill="#789BF2" points="268.5,573.9 271.3,573.3 272.1,576.4 269.1,576.7"/>
<polygon fill="#B22222" points="208.2,620.0 217.0,616.0 227.0,612.2 234.5,607.2 240.8,608.5 242.0,614.2 237.0,620.5 227.0,624.2 217.0,624.2 210.8,623.0"/>
<polygon fill="#B22222" points="266.6,600.5 272.9,595.7 280.8,591.0 290.3,589.4 299.8,588.6 309.3,588.6 315.6,584.6 321.9,580.7 328.3,578.3 337.8,572.0 337.8,595.7 328.3,595.7 321.9,598.9 315.6,600.5 309.3,599.7 304.5,600.5 301.4,603.6 296.6,606.0 290.3,608.4 285.5,611.5 280.8,614.7 279.2,621.0 281.6,627.4 282.4,635.3 280.8,642.4 274.5,644.0 268.1,641.6 264.2,638.4 265.0,632.1 268.1,625.8 269.7,619.5 268.5,614.7 266.6,608.4"/>
<polygon fill="#B22222" points="315.4,576.4 323.3,569.3 329.7,564.3 334.4,561.4 348.6,567.7 355.0,571.7 364.5,576.4 374.0,583.6 380.3,589.1 386.6,594.6 385.0,597.0 377.1,597.0 370.8,598.6 366.1,604.1 361.3,608.9 356.6,613.6 351.8,611.3 345.5,608.9 339.2,605.7 334.4,599.4 332.8,593.1 334.4,586.7 328.1,583.6 323.3,582.0 315.4,585.2"/>
<polygon fill="#789BF2" points="245.8,731.1 248.1,724.0 252.9,720.9 259.2,717.7 265.5,717.2 271.9,719.3 273.5,722.4 268.7,725.6 262.4,727.2 258.4,731.1 256.1,735.9 252.9,738.3 248.5,737.5 246.2,735.1"/>
<polygon fill="#789BF2" points="268.6,787.3 269.8,777.4 273.1,768.5 278.1,759.7 283.6,751.9 289.7,744.7 295.2,739.7 299.1,737.5 304.1,738.6 308.5,740.8 312.4,744.1 312.9,748.0 309.6,749.7 306.3,751.9 305.2,755.2 304.6,759.7 303.0,764.6 300.2,769.6 296.3,775.2 291.9,780.7 286.9,785.1 280.8,788.4 274.2,790.7 269.8,790.1"/>
<polygon fill="#789BF2" points="310.7,736.4 314.0,731.4 318.5,728.1 323.5,727.0 326.2,728.6 325.7,734.2 324.0,738.6 321.8,742.5 317.4,743.0 313.5,740.8 310.7,739.2"/>
<polygon fill="#789BF2" points="271.0,785.3 278.1,783.7 287.6,785.3 294.0,783.7 292.4,789.3 284.5,790.9 275.0,790.1"/>
<polygon fill="#B22222" stroke="#B22222" stroke-width="11.0" stroke-linejoin="round" points="188.1,758.6 189.7,749.1 194.5,741.2 202.4,739.6 210.3,741.2 216.6,739.6 226.1,736.5 235.6,733.3 241.9,730.1 244.3,732.5 238.8,736.5 232.4,741.2 227.7,745.9 222.9,750.7 218.2,757.0 215.0,764.9 214.4,768.5 206.5,770.1 197.0,768.5 190.8,770.5 187.0,780.5 182.0,788.0 175.8,783.0 177.0,775.5 187.0,769.2"/>
<polygon fill="#B22222" points="187.5,778.0 197.0,778.0 214.4,774.8 218.4,773.2 222.3,770.1 228.6,767.7 233.4,765.3 238.1,767.7 246.1,766.9 252.4,766.1 257.1,769.3 257.9,774.0 252.4,777.2 244.5,778.0 236.6,777.2 228.6,779.6 225.5,783.5 231.0,789.1 238.1,793.8 246.1,800.1 249.2,806.5 248.4,814.4 246.8,822.3 247.6,834.9 236.6,834.9 220.7,822.3 197.0,811.2 181.2,787.5"/>
<polygon fill="#B22222" points="153.3,722.2 158.1,715.9 164.4,711.1 170.7,705.6 177.1,702.4 185.0,701.6 191.3,704.0 196.1,709.6 197.6,715.9 194.5,720.6 188.1,724.6 178.6,726.2 169.2,725.4 161.2,727.0 155.7,726.2"/>
<polygon fill="#B22222" points="172.3,687.7 175.5,686.6 177.9,688.2 175.5,689.9"/>
<polygon fill="#B22222" points="145.4,682.7 150.2,687.4 151.7,701.6 151.0,714.3 153.3,722.2 150.2,725.4 145.4,725.4"/>
<polygon fill="#B22222" points="162.8,764.9 170.7,762.6 178.6,763.4 186.6,762.6 188.1,771.3 162.8,771.3"/>
<polygon fill="#B22222" points="293.3,836.5 299.7,833.4 307.6,834.1 310.7,841.3 291.7,841.3"/>
<polygon fill="#B22222" points="261.9,841.3 265.0,833.4 269.8,828.6 276.1,825.4 282.4,826.2 285.6,831.8 291.9,834.9 298.3,834.9 298.3,841.3"/>
<polygon fill="#B22222" points="392.9,601.0 395.8,612.1 396.9,620.0 400.1,626.3 405.6,632.6 408.8,640.5 409.6,648.4 410.4,656.4 412.3,648.4 409.1,656.3 404.4,659.5 402.8,665.8 405.9,670.6 415.4,673.7 412.3,680.1 401.2,680.9 401.2,684.8 412.3,687.2 412.3,694.3 405.9,697.5 399.6,703.8 398.0,710.1 400.4,718.0 400.1,720.0 400.9,729.5 399.3,735.8 397.0,745.3 395.4,754.8 392.2,760.3 388.3,765.9 389.1,775.4 385.9,786.5 386.7,794.4 385.1,802.3 381.1,814.9 460.0,850.0 470.0,560.0"/>
<polygon fill="#FFA000" points="275.3,616.3 279.2,612.3 287.1,609.2 294.2,608.4 293.5,613.9 287.1,616.3 280.8,620.2"/>
<polygon fill="#FF4500" points="192.3,779.6 206.5,778.8 214.4,779.6 216.0,784.3 212.0,792.2 208.1,798.5 208.1,806.5 203.3,806.5 192.3,801.7"/>
<polygon fill="#FFA000" points="193.8,787.5 203.3,783.5 207.3,785.9 208.1,792.2 204.9,797.8 200.2,799.3 193.8,797.8"/>
<polygon fill="#3C64E6" points="204.0,593.0 209.5,588.0 214.0,588.0 210.8,594.2 206.5,596.0"/>
<polygon fill="#3C64E6" points="248.4,569.6 253.1,567.6 257.9,568.0 254.7,570.4"/>
<polygon fill="#FFB6C1" points="284.0,594.9 290.3,591.8 299.8,591.0 306.1,593.8 304.5,598.1 296.6,599.7 288.7,599.7"/>
<polygon fill="#FFB6C1" points="314.0,587.0 321.9,582.3 328.3,580.2 329.8,587.0 321.9,591.0 315.6,592.6"/>
<polygon fill="#FFB6C1" points="270.0,628.9 273.7,626.6 275.7,630.5 275.3,636.9 271.3,636.9"/>
<polygon fill="#FFB6C1" stroke="#FFB6C1" stroke-width="4.0" stroke-linejoin="round" points="336.8,593.9 339.2,586.7 343.1,578.0 348.6,573.3 355.0,575.7 362.9,580.4 370.8,585.2 372.4,588.3 369.2,594.6 364.5,598.6 358.1,603.3 353.4,606.5 347.1,604.1 340.7,600.2"/>
<polygon fill="#3C64E6" points="247.8,731.9 250.0,725.6 254.5,722.4 260.0,720.1 262.4,721.6 260.0,725.6 256.1,728.8 253.7,733.5 250.5,735.9"/>
<polygon fill="#3C64E6" points="272.0,780.7 272.5,774.0 275.3,766.3 279.7,758.5 285.3,750.8 290.8,744.7 295.8,740.3 299.7,739.2 302.4,741.4 303.5,746.4 303.5,753.0 302.4,758.5 300.2,764.1 296.9,769.6 293.0,774.6 288.6,779.0 283.6,782.4 277.5,784.0 273.1,783.5"/>
<polygon fill="#3C64E6" points="315.2,735.3 317.4,731.4 320.7,729.2 322.9,730.3 322.4,734.7 320.1,738.6 316.8,738.6"/>
<polygon fill="#FFB6C1" stroke="#FFB6C1" stroke-width="3.6" stroke-linejoin="round" points="188.1,758.6 189.7,749.1 194.5,741.2 202.4,739.6 210.3,741.2 216.6,739.6 226.1,736.5 235.6,733.3 241.9,730.1 244.3,732.5 238.8,736.5 232.4,741.2 227.7,745.9 222.9,750.7 218.2,757.0 215.0,764.9 214.4,768.5 206.5,770.1 197.0,768.5 190.8,770.5 187.0,780.5 182.0,788.0 175.8,783.0 177.0,775.5 187.0,769.2"/>
<polygon fill="#FFB6C1" points="190.7,777.2 197.0,777.2 204.9,776.4 214.4,774.0 217.6,771.6 220.7,760.6 226.3,751.9 235.8,744.0 236.6,740.0 228.6,740.0 212.8,755.8 197.0,768.5"/>
<polygon fill="#FFB6C1" points="225.5,776.4 227.9,770.9 232.6,769.3 236.6,771.6 239.7,768.5 245.3,766.9 250.0,770.9 247.6,774.8 241.3,775.6 236.6,774.0 232.6,777.2 227.9,778.0"/>
<polygon fill="#FFB6C1" points="214.4,814.4 219.2,811.2 222.3,804.9 228.6,803.3 238.1,804.1 242.1,808.0 243.7,815.9 244.5,825.4 242.9,834.9 233.4,831.8 223.9,823.9 217.6,818.3"/>
<polygon fill="#FFB6C1" points="162.8,719.1 167.6,713.5 173.9,708.8 178.6,707.2 185.0,708.0 190.5,711.9 192.1,716.7 188.1,719.8 181.8,721.4 175.5,723.0 169.2,722.2 165.2,721.4"/>
<polygon fill="#FFB6C1" points="415.4,648.4 418.6,659.5 423.4,665.8 426.5,672.2 428.1,681.6 427.3,691.1 424.9,697.5 420.2,703.8 416.2,710.1 421.8,713.3 428.1,718.0 424.9,724.4 427.8,723.2 422.3,727.9 417.5,735.8 412.8,743.7 408.8,751.6 407.2,761.1 406.5,772.2 405.7,780.1 434.9,780.1 470.0,640.0"/>
<polygon fill="#B22222" points="424.9,707.0 430.0,704.6 431.3,713.3 426.5,712.5"/>
<polygon fill="#FF1493" points="289.5,595.4 295.0,593.8 301.4,594.9 296.6,597.0"/>
<polygon fill="#FF1493" points="336.8,593.9 339.2,586.7 343.1,578.0 348.6,573.3 355.0,575.7 362.9,580.4 370.8,585.2 372.4,588.3 369.2,594.6 364.5,598.6 358.1,603.3 353.4,606.5 347.1,604.1 340.7,600.2"/>
<polygon fill="#0000CD" points="275.3,774.6 276.4,767.4 280.3,759.7 285.3,752.5 290.2,746.9 295.2,742.5 299.1,741.9 300.8,745.3 300.8,750.8 299.7,756.3 297.4,761.9 294.1,767.4 289.7,772.4 284.7,776.3 279.7,777.4 276.4,776.8"/>
<polygon fill="#FF1493" points="188.1,758.6 189.7,749.1 194.5,741.2 202.4,739.6 210.3,741.2 216.6,739.6 226.1,736.5 235.6,733.3 241.9,730.1 244.3,732.5 238.8,736.5 232.4,741.2 227.7,745.9 222.9,750.7 218.2,757.0 215.0,764.9 214.4,768.5 206.5,770.1 197.0,768.5 190.8,770.5 187.0,780.5 182.0,788.0 175.8,783.0 177.0,775.5 187.0,769.2"/>
<polygon fill="#FF1493" points="227.9,774.5 230.2,770.9 233.1,774.0"/>
<polygon fill="#FF1493" points="240.5,771.6 244.5,768.5 248.4,771.6 244.5,774.0"/>
<polygon fill="#FF1493" points="227.9,819.1 231.0,814.4 235.0,812.0 238.1,815.9 238.9,822.3 235.0,824.7 230.2,823.9"/>
<polygon fill="#FF1493" points="175.5,720.3 178.6,718.7 181.0,720.3 177.9,721.6"/>
<polygon fill="#9370DB" points="278.1,771.8 279.2,766.3 282.5,760.8 286.9,754.7 291.3,751.3 295.8,750.8 298.0,753.0 297.2,757.4 294.7,762.4 290.8,767.4 286.9,771.3 282.5,774.0 279.2,774.0"/>
<circle cx="289.2" cy="699.1" r="7.3" fill="#fff"/>
<g fill="none" stroke="#000" stroke-width="1.2" stroke-linejoin="round">
<polyline points="173.3,617.9 178.1,614.7 182.8,615.5 189.2,616.3 195.5,617.1 201.8,618.7 208.1,619.5 214.5,618.7 220.8,617.9 227.1,616.3 231.9,614.7 235.0,613.9 237.4,611.5 236.6,608.4 239.0,605.2 239.8,600.5 237.4,598.9 239.0,594.9 241.4,595.7 242.9,592.6 245.3,588.6 247.7,585.4 250.9,582.3 254.8,579.1 256.4,579.9 253.2,583.1 250.1,587.0 247.7,591.0 246.9,595.7 249.3,598.1 253.2,596.5 257.2,598.9 261.9,600.5 267.0,599.7"/>
<polyline points="189.2,611.2 193.1,610.8 197.1,612.8 195.5,614.4 191.5,613.1 189.2,611.2"/>
<polyline points="206.6,617.6 209.7,617.1 212.1,620.2 209.4,621.0 206.6,617.6"/>
<polyline points="260.7,575.2 262.7,572.0 264.3,571.7 262.4,575.5 260.7,575.2"/>
<polyline points="247.0,597.3 251.7,596.5 256.5,598.9 261.2,598.1 265.2,600.5 266.0,605.2 262.8,609.2 259.7,612.3 261.2,616.3 265.2,615.5 269.9,615.5 270.7,617.9 266.8,621.0 264.4,621.8 268.4,625.0 271.5,628.9 269.2,632.9 266.0,636.9 262.8,640.0 256.5,641.6 250.2,644.0 247.0,644.8"/>
<polyline points="267.0,636.9 258.8,640.8 249.3,643.2 239.8,647.1 238.2,653.0"/>
<polyline points="329.3,653.0 326.1,651.1 322.2,647.9 319.8,644.0 316.6,639.2 311.9,635.3 308.7,632.1 303.2,630.5 300.8,628.2 297.6,629.7 292.9,627.4 286.6,624.2 281.8,621.8 278.6,619.5 275.5,617.9 277.9,613.1 281.0,612.3 285.0,615.5 288.1,617.1 288.9,613.9 292.9,610.8 290.5,607.6 289.7,604.4 294.5,602.1 299.2,599.7 304.0,597.3 307.1,596.5 310.3,598.1 315.0,598.9 318.2,597.3 321.4,594.9 322.9,591.8 322.2,588.6 324.5,585.4 327.7,582.3 332.4,579.9 337.2,576.7 341.9,573.6 344.3,572.8 342.7,579.1 341.1,584.6 338.8,590.2 334.8,594.1 330.9,595.7 326.1,598.1 321.4,600.5 317.4,603.6 315.0,607.6 318.2,606.8 321.4,604.4 323.7,605.2 322.9,607.6 326.1,608.4 330.9,606.8 334.8,603.6 340.4,603.6 344.3,607.6 347.0,609.2"/>
<polyline points="286.2,635.0 288.5,633.4 290.8,634.3 289.4,636.2 286.9,636.4 286.2,635.0"/>
<polyline points="271.5,608.1 273.9,607.4 276.3,608.7 273.9,609.3 271.5,608.1"/>
<polyline points="280.2,564.4 281.5,564.1 281.5,565.3 280.2,565.3 280.2,564.4"/>
<polyline points="304.3,569.1 305.9,568.8 305.9,570.4 304.3,570.1 304.3,569.1"/>
<polyline points="347.6,571.2 343.6,572.8 342.8,578.3 341.2,584.6 338.9,591.0 335.7,594.1 331.7,596.5 327.0,598.1"/>
<polyline points="327.0,607.6 331.7,605.2 335.7,602.8 339.7,604.4 341.2,607.6 346.0,610.0 350.7,612.3 355.5,613.9 361.8,613.1 368.1,612.3 374.5,611.5 376.1,608.4 374.5,605.2 372.1,603.6 369.7,600.5 366.6,599.7 365.0,598.1 367.3,594.1 370.5,589.4 372.9,586.2"/>
<polyline points="369.7,596.5 372.9,594.1 376.1,591.0 377.9,589.1"/>
<polyline points="150.2,678.6 153.3,677.0 158.1,675.4 162.0,674.6 161.2,677.0 156.5,678.6 152.5,680.2 150.2,678.6"/>
<polyline points="151.7,682.2 156.5,680.2 162.8,679.1 163.6,681.0 158.9,682.6 154.1,683.8 151.7,682.2"/>
<polyline points="174.2,672.3 177.1,672.7 180.5,675.4 179.4,676.5 176.3,674.6 174.2,672.3"/>
<polyline points="186.6,659.6 189.4,662.0 190.0,665.2 187.8,666.7 186.9,663.6 186.6,659.6"/>
<polyline points="197.6,654.9 200.8,654.1 202.4,658.8 200.8,663.6 201.6,667.5 199.2,668.3 197.9,663.6 198.4,658.8 197.6,654.9"/>
<polyline points="187.3,744.3 189.7,736.4 194.5,731.6 199.2,726.9 197.6,722.1 194.5,717.4 196.1,715.0 195.3,711.0 197.6,709.5 199.2,713.4 201.6,710.2 205.5,707.9 208.7,705.5 206.3,703.1 201.6,703.9 199.2,704.7 197.6,700.8 194.5,696.8 190.5,692.8 186.6,690.5 181.0,691.3 175.5,694.4 173.1,700.0 170.7,706.3 168.4,711.0 167.6,715.0 161.2,716.6 154.9,721.3 155.7,723.7 158.9,725.3 164.4,724.5 170.7,725.3 175.5,723.7 179.4,722.9 182.6,720.5 188.1,719.7 193.7,717.4"/>
<polyline points="251.3,643.0 246.6,644.6 241.8,646.2 238.6,649.3 237.9,654.1 235.5,658.0 230.7,659.6 229.2,662.8 224.4,665.2 221.2,668.3 218.9,671.5 216.5,675.4 220.4,677.0 221.2,681.0 218.1,684.1 214.9,687.3 213.3,690.5 216.5,692.1 221.2,690.5 224.4,693.6 221.2,696.8 216.5,699.2 212.5,702.3 214.9,704.7 219.7,703.1 222.8,705.5 219.7,707.9 214.9,709.5 210.2,708.7 207.0,710.2"/>
<polyline points="234.8,664.5 238.1,663.4 240.9,664.5 243.1,667.3 244.2,669.5 242.6,672.3 240.3,674.5 237.6,675.0 236.5,672.3 235.4,668.9 234.3,666.7 234.8,664.5"/>
<polyline points="219.3,668.9 221.5,667.3 223.2,665.6 225.4,665.1 227.6,662.8 230.4,661.2 232.0,659.5 233.1,662.3 233.7,665.6 231.5,668.9 229.3,669.5 228.2,672.3 226.5,671.1 224.8,669.2 222.1,669.5 221.0,671.1 220.4,675.6 221.0,678.3 219.9,681.1 221.5,683.3 224.8,683.9 227.6,682.2 230.9,681.7 233.7,682.8 235.1,684.4 233.7,681.1 234.8,678.0 236.2,675.6 235.1,672.8 233.7,670.6"/>
<polyline points="240.3,678.3 243.1,676.1 246.4,674.5 249.8,672.3 250.9,675.6 252.0,678.9 253.1,682.2 252.0,685.0 249.2,685.5 246.4,683.9 243.7,684.4 240.9,682.8 240.0,680.6 240.3,678.3"/>
<polyline points="243.1,678.3 245.3,677.2 247.5,678.3 246.4,680.6 243.7,681.1 243.1,678.3"/>
<polyline points="248.1,675.6 249.8,675.0 250.3,677.8 248.7,678.3 248.1,675.6"/>
<polyline points="247.5,681.7 249.8,681.1 250.9,683.3 248.7,684.2 247.5,681.7"/>
<polyline points="227.1,688.9 229.8,686.7 233.1,687.2 234.8,689.4 234.3,692.2 231.5,693.3 228.7,692.7 227.6,690.9 227.1,688.9"/>
<polyline points="239.2,688.3 242.0,687.2 245.3,687.8 245.9,690.5 243.1,692.2 239.8,691.6 239.2,688.3"/>
<polyline points="248.1,690.5 250.3,688.9 253.6,689.4 254.2,692.2 251.4,693.3 248.7,692.7 248.1,690.5"/>
<polyline points="228.7,694.4 232.0,693.9 234.8,695.0 234.3,697.7 230.9,698.3 228.7,696.8 228.7,694.4"/>
<polyline points="237.6,694.4 240.3,693.3 243.1,694.4 243.7,697.7 242.0,700.5 238.7,699.9 237.4,697.2 237.6,694.4"/>
<polyline points="212.7,690.5 215.4,688.3 218.8,688.9 219.9,691.1 217.1,692.7 213.8,692.7 212.7,690.5"/>
<polyline points="247.0,696.1 249.8,693.9 253.6,693.3 257.5,695.5 260.8,697.7 264.2,701.0 266.4,704.4 267.5,708.2 265.8,711.0 262.5,710.5 259.7,708.8 258.1,705.5 256.4,702.2 253.6,701.0 250.9,700.5 248.1,698.8 247.0,696.1"/>
<polyline points="255.9,698.8 258.1,700.5 259.2,703.8 257.5,704.9 256.4,701.6 255.9,698.8"/>
<polyline points="211.0,702.2 214.3,700.5 217.6,698.8 221.0,697.7 224.3,698.8 227.6,699.9 230.9,701.0 233.7,703.3 234.8,706.6 233.1,709.4 230.9,710.5 231.5,713.2 229.8,715.4 228.7,719.0"/>
<polyline points="211.0,708.8 214.3,707.7 217.1,709.4 215.4,711.6 212.1,712.1 211.0,708.8"/>
<polyline points="213.2,715.4 216.5,714.3 218.8,716.0 217.1,718.2 213.8,718.2 213.2,715.4"/>
<polyline points="240.9,701.0 242.6,704.4 242.0,707.7 240.3,710.5 238.7,707.7 239.2,703.8 240.9,701.0"/>
<polyline points="238.1,719.0 239.8,715.4 243.1,712.7 246.4,711.6 249.2,713.2 247.5,716.0 245.3,719.0"/>
<polyline points="216.0,653.4 217.1,651.8 217.9,655.6 217.1,660.1 216.0,658.4 216.0,653.4"/>
<polyline points="218.8,652.9 219.9,651.8 220.4,655.6 219.6,660.1 218.8,657.9 218.8,652.9"/>
<polyline points="221.0,652.3 222.1,651.4 222.3,655.6 221.5,659.0 221.0,652.3"/>
<polyline points="222.8,717.4 227.6,712.6 230.7,709.5 233.9,706.3 238.6,705.5 243.4,704.7 244.2,707.1 240.2,709.5 236.3,712.6 233.1,715.8 232.3,720.5 229.2,725.3 226.0,729.2 222.8,731.6 220.4,736.4 216.5,737.9 211.7,738.7 210.2,736.4 213.3,732.4 216.5,728.4 219.7,723.7 221.2,720.5 222.8,717.4"/>
<polyline points="232.3,743.0 233.1,739.5 236.3,737.1 239.4,734.0 242.6,730.8 245.0,728.4 245.8,723.7 246.6,718.9 247.3,714.2 249.7,710.2 254.5,711.0 260.8,713.4 267.1,715.0 273.5,716.6 278.2,718.9 280.6,723.7 276.6,725.3 279.8,726.9 282.2,729.2 279.8,734.8 276.6,739.5 274.2,743.0"/>
<polyline points="240.3,733.0 237.1,736.2 233.2,739.3 232.4,743.3 227.6,744.9 222.9,748.0 219.7,752.0 217.3,756.7 215.0,762.3 214.2,767.0 215.8,771.8 217.3,774.5 220.5,772.6 224.5,770.2 229.2,767.0 232.4,764.6 236.3,763.9 240.3,764.6 245.0,763.9 250.6,762.3 255.3,763.1 259.3,760.7 262.4,756.7 266.4,753.6 269.6,748.8 271.9,744.1 274.3,739.3 277.0,734.6"/>
<polyline points="258.6,760.4 261.7,758.8 264.9,755.7 268.9,751.7 272.0,747.7 272.8,743.0"/>
<polyline points="254.5,775.7 257.7,773.3 260.9,774.9 264.8,775.7 268.0,778.1 268.8,781.3 265.6,784.4 260.9,785.2 256.9,783.6 254.5,780.5 253.7,778.1 254.5,775.7"/>
<polyline points="196.1,717.2 197.6,723.6 196.1,728.3 192.9,732.3 188.9,735.4 187.3,740.2 191.3,741.8 194.5,743.3 192.1,747.3 188.1,751.3 185.0,756.0 183.4,760.8 184.2,765.5 181.8,770.2 178.6,773.4 173.9,771.0 169.2,770.2"/>
<polyline points="200.0,737.0 201.6,732.3 204.8,731.5 206.3,735.4 208.7,737.0 211.9,732.3 214.2,730.7 215.0,734.6 218.2,736.2 220.6,733.1 219.8,728.3 222.9,725.2 226.9,722.0 229.3,718.0 230.1,713.3 233.2,709.3"/>
<polyline points="168.4,772.6 172.3,770.2 177.1,772.6 176.3,775.8 172.3,777.4 168.4,772.6"/>
<polyline points="297.0,630.1 301.0,628.5 303.3,630.9 308.1,631.7 312.0,634.1 312.8,638.0 316.8,640.4 319.9,643.6 320.7,647.5 323.1,650.7 326.3,652.3 329.4,650.7 332.6,653.9 336.6,655.4 338.5,657.0 337.3,661.0 334.2,661.8 334.2,665.7 336.6,668.1 338.5,670.5 338.9,675.2 340.5,678.4 342.1,681.5 338.9,679.2 335.0,679.2 332.1,681.5 331.0,685.5 332.1,689.5 335.0,691.0 336.6,695.0 338.9,698.9 342.9,701.3 344.5,705.3 345.3,709.2 347.6,710.8 350.0,708.4 350.8,711.6 349.2,714.8 345.3,716.4 342.9,717.9 346.1,719.5 352.4,717.9 358.7,718.7 363.5,721.1 365.0,723.0"/>
<polyline points="313.6,654.6 316.0,653.9 317.6,657.0 320.7,658.6 323.1,660.2 322.3,663.3 319.2,663.3 316.8,660.2 314.4,657.8 313.6,654.6"/>
<polyline points="322.3,654.3 324.2,653.9 324.7,656.5 322.8,656.9 322.3,654.3"/>
<polyline points="318.4,695.8 322.3,692.6 325.5,689.5 328.6,688.7 329.4,691.8 326.3,695.0 323.1,698.2 319.9,697.4 318.4,695.8"/>
<polyline points="312.0,719.5 313.6,715.6 316.0,712.4 317.6,714.0 315.7,717.9 313.6,721.1 312.0,719.5"/>
<polyline points="344.5,707.2 347.6,708.8 350.8,707.2 351.6,710.4 349.2,713.6 345.3,715.2 342.1,716.7 344.5,719.1 349.2,718.3 354.0,717.5 358.7,718.3 362.7,719.9 365.8,722.3 366.6,724.6 364.2,725.4 361.9,723.1 357.9,720.7 354.8,719.9 356.3,723.1 357.9,725.4 355.5,727.0 352.4,729.4 349.2,731.8 346.1,733.3 349.2,733.3 352.4,734.9 350.8,738.1 347.6,740.5 346.8,743.6 347.6,747.6 346.1,750.8 342.9,752.3 339.7,753.1 342.1,755.5 345.3,753.9 347.3,752.3 344.5,756.3 343.7,760.2 344.5,763.4 341.3,765.0 338.1,765.8 334.2,766.6 331.0,765.8"/>
<polyline points="336.6,767.4 339.7,770.5 343.7,769.7 344.5,766.6 340.5,761.8 341.3,758.7 338.9,757.1 335.0,756.3 328.6,757.1 323.1,757.1 317.6,757.9 312.8,761.0 310.4,765.0 308.1,768.9 306.5,773.7 304.9,779.2 303.3,784.8 300.2,789.5 298.6,793.0"/>
<polyline points="329.4,716.7 331.0,715.2 332.6,716.7 332.6,722.3 334.2,727.0 336.6,731.0 339.7,734.1 343.7,734.9 344.5,736.5 341.3,738.1 337.3,736.5 334.2,733.3 331.5,728.6 330.2,723.1 329.4,716.7"/>
<polyline points="297.0,731.8 300.2,729.4 304.1,729.4 304.9,732.6 303.3,735.7 305.7,738.1 304.1,739.7 301.0,738.1 299.4,740.5 297.8,737.3 297.0,731.8"/>
<polyline points="311.2,719.9 313.6,716.7 315.2,712.8 317.6,713.6 316.8,717.5 314.1,721.5 311.2,719.9"/>
<polyline points="342.1,776.9 345.3,776.1 348.4,778.4 346.8,780.3 343.2,779.2 342.1,776.9"/>
<polyline points="338.9,784.5 342.1,783.2 344.5,785.6 342.1,787.5 339.4,786.7 338.9,784.5"/>
<polyline points="345.6,743.0 347.2,747.7 345.6,751.7 343.2,754.9 345.6,758.0 343.2,759.6 339.3,758.0 334.5,757.2 329.0,757.2 323.5,756.4 319.5,758.0 316.3,758.0 313.2,761.2 310.8,764.4 308.4,768.3 306.8,772.3 308.4,774.6 307.6,778.6 305.3,783.3 302.9,788.1 299.7,792.8 297.8,796.8 298.5,801.5 299.7,806.3 302.1,808.7 304.5,807.1 306.8,804.7 309.2,803.9 311.6,807.1 314.0,811.0 315.5,814.2 317.9,815.0 320.3,812.6 321.1,807.9 320.3,803.1 321.9,799.2 322.7,795.2 320.3,792.1 317.9,788.9 317.9,784.1 319.5,779.4 321.1,775.4 324.2,775.4 325.8,778.6 324.2,782.6 323.5,787.3 325.0,791.3 328.2,794.4 332.2,793.6 336.1,791.3 339.3,788.1 343.2,787.3 344.0,784.1 341.7,782.6 339.3,784.9 338.5,788.1 335.3,792.1 332.9,796.0 330.6,798.4 331.4,801.5 334.5,800.8 335.3,803.9 332.9,806.3 330.6,809.5 330.6,813.4 327.4,816.6 323.5,817.4 320.3,819.7 317.9,821.3 314.8,819.7 312.4,817.4 310.8,814.2 308.4,812.6 306.8,815.8 307.6,820.5 305.3,823.7 302.1,826.1 299.7,830.0 296.6,833.2 293.4,836.4 292.6,839.5"/>
<polyline points="331.4,765.9 336.1,766.7 340.9,765.9 343.2,768.3 340.9,770.7 337.7,769.9"/>
<polyline points="343.2,759.6 345.6,762.0 344.8,765.9 347.2,768.3"/>
<polyline points="276.0,809.5 279.9,807.1 283.1,808.7 282.3,812.6 284.7,814.2 283.9,818.2 286.3,822.1 288.6,826.1 291.0,830.0 291.8,834.0 288.6,836.4 283.9,837.1 280.7,837.9 278.4,836.4 280.7,833.2 279.2,830.0 280.7,826.9 279.2,822.9 277.6,818.9 278.4,815.0 276.8,812.6 276.0,809.5"/>
<polyline points="266.5,823.7 269.7,820.5 273.6,819.7 276.0,822.1 275.7,826.9 272.8,830.8 268.9,832.4 265.7,830.8 266.5,827.7 266.5,823.7"/>
</g>
</g>
<circle cx="289.2" cy="699.1" r="141.0" fill="none" stroke="#333" stroke-width="0.9"/>
<rect x="0" y="238" width="1.1" height="15.5" fill="#c8c8c8"/>
<rect x="5.50" y="427.80" width="17.06" height="13.20" fill="#9370DB" stroke="#222" stroke-width="0.8"/>
<rect x="22.56" y="427.80" width="17.06" height="13.20" fill="#0000CD" stroke="#222" stroke-width="0.8"/>
<rect x="39.62" y="427.80" width="17.06" height="13.20" fill="#3C64E6" stroke="#222" stroke-width="0.8"/>
<rect x="56.69" y="427.80" width="17.06" height="13.20" fill="#789BF2" stroke="#222" stroke-width="0.8"/>
<rect x="73.75" y="427.80" width="17.06" height="13.20" fill="#B0E0E6" stroke="#222" stroke-width="0.8"/>
<rect x="90.81" y="427.80" width="17.06" height="13.20" fill="#20B2AA" stroke="#222" stroke-width="0.8"/>
<rect x="107.88" y="427.80" width="17.06" height="13.20" fill="#BDEE62" stroke="#222" stroke-width="0.8"/>
<rect x="124.94" y="427.80" width="17.06" height="13.20" fill="#96BE32" stroke="#222" stroke-width="0.8"/>
<rect x="142.00" y="427.80" width="17.06" height="13.20" fill="#F5E4BE" stroke="#222" stroke-width="0.8"/>
<rect x="159.06" y="427.80" width="17.06" height="13.20" fill="#DEB887" stroke="#222" stroke-width="0.8"/>
<rect x="176.12" y="427.80" width="17.06" height="13.20" fill="#FFDC00" stroke="#222" stroke-width="0.8"/>
<rect x="193.19" y="427.80" width="17.06" height="13.20" fill="#FFA000" stroke="#222" stroke-width="0.8"/>
<rect x="210.25" y="427.80" width="17.06" height="13.20" fill="#FF4500" stroke="#222" stroke-width="0.8"/>
<rect x="227.31" y="427.80" width="17.06" height="13.20" fill="#B22222" stroke="#222" stroke-width="0.8"/>
<rect x="244.38" y="427.80" width="17.06" height="13.20" fill="#FFB6C1" stroke="#222" stroke-width="0.8"/>
<rect x="261.44" y="427.80" width="17.06" height="13.20" fill="#FF1493" stroke="#222" stroke-width="0.8"/>
<text x="22.6" y="457.2" class="lb" text-anchor="middle">5</text>
<text x="56.7" y="457.2" class="lb" text-anchor="middle">15</text>
<text x="90.8" y="457.2" class="lb" text-anchor="middle">30</text>
<text x="124.9" y="457.2" class="lb" text-anchor="middle">50</text>
<text x="159.1" y="457.2" class="lb" text-anchor="middle">70</text>
<text x="193.2" y="457.2" class="lb" text-anchor="middle">90</text>
<text x="227.3" y="457.2" class="lb" text-anchor="middle">110</text>
<text x="261.4" y="457.2" class="lb" text-anchor="middle">130</text>
<rect x="299.50" y="427.80" width="17.06" height="13.20" fill="#9370DB" stroke="#222" stroke-width="0.8"/>
<rect x="316.56" y="427.80" width="17.06" height="13.20" fill="#0000CD" stroke="#222" stroke-width="0.8"/>
<rect x="333.62" y="427.80" width="17.06" height="13.20" fill="#3C64E6" stroke="#222" stroke-width="0.8"/>
<rect x="350.69" y="427.80" width="17.06" height="13.20" fill="#789BF2" stroke="#222" stroke-width="0.8"/>
<rect x="367.75" y="427.80" width="17.06" height="13.20" fill="#B0E0E6" stroke="#222" stroke-width="0.8"/>
<rect x="384.81" y="427.80" width="17.06" height="13.20" fill="#20B2AA" stroke="#222" stroke-width="0.8"/>
<rect x="401.88" y="427.80" width="17.06" height="13.20" fill="#BDEE62" stroke="#222" stroke-width="0.8"/>
<rect x="418.94" y="427.80" width="17.06" height="13.20" fill="#96BE32" stroke="#222" stroke-width="0.8"/>
<rect x="436.00" y="427.80" width="17.06" height="13.20" fill="#F5E4BE" stroke="#222" stroke-width="0.8"/>
<rect x="453.06" y="427.80" width="17.06" height="13.20" fill="#DEB887" stroke="#222" stroke-width="0.8"/>
<rect x="470.12" y="427.80" width="17.06" height="13.20" fill="#FFDC00" stroke="#222" stroke-width="0.8"/>
<rect x="487.19" y="427.80" width="17.06" height="13.20" fill="#FFA000" stroke="#222" stroke-width="0.8"/>
<rect x="504.25" y="427.80" width="17.06" height="13.20" fill="#FF4500" stroke="#222" stroke-width="0.8"/>
<rect x="521.31" y="427.80" width="17.06" height="13.20" fill="#B22222" stroke="#222" stroke-width="0.8"/>
<rect x="538.38" y="427.80" width="17.06" height="13.20" fill="#FFB6C1" stroke="#222" stroke-width="0.8"/>
<rect x="555.44" y="427.80" width="17.06" height="13.20" fill="#FF1493" stroke="#222" stroke-width="0.8"/>
<text x="316.6" y="457.2" class="lb" text-anchor="middle">5</text>
<text x="350.7" y="457.2" class="lb" text-anchor="middle">15</text>
<text x="384.8" y="457.2" class="lb" text-anchor="middle">30</text>
<text x="418.9" y="457.2" class="lb" text-anchor="middle">50</text>
<text x="453.1" y="457.2" class="lb" text-anchor="middle">70</text>
<text x="487.2" y="457.2" class="lb" text-anchor="middle">90</text>
<text x="521.3" y="457.2" class="lb" text-anchor="middle">110</text>
<text x="555.4" y="457.2" class="lb" text-anchor="middle">130</text>
<rect x="509.50" y="610.40" width="33.00" height="14.19" fill="#FF1493" stroke="#222" stroke-width="0.8"/>
<rect x="509.50" y="624.59" width="33.00" height="14.19" fill="#FFB6C1" stroke="#222" stroke-width="0.8"/>
<rect x="509.50" y="638.79" width="33.00" height="14.19" fill="#B22222" stroke="#222" stroke-width="0.8"/>
<rect x="509.50" y="652.98" width="33.00" height="14.19" fill="#FF4500" stroke="#222" stroke-width="0.8"/>
<rect x="509.50" y="667.17" width="33.00" height="14.19" fill="#FFA000" stroke="#222" stroke-width="0.8"/>
<rect x="509.50" y="681.37" width="33.00" height="14.19" fill="#FFDC00" stroke="#222" stroke-width="0.8"/>
<rect x="509.50" y="695.56" width="33.00" height="14.19" fill="#DEB887" stroke="#222" stroke-width="0.8"/>
<rect x="509.50" y="709.76" width="33.00" height="14.19" fill="#F5E4BE" stroke="#222" stroke-width="0.8"/>
<rect x="509.50" y="723.95" width="33.00" height="14.19" fill="#96BE32" stroke="#222" stroke-width="0.8"/>
<rect x="509.50" y="738.14" width="33.00" height="14.19" fill="#BDEE62" stroke="#222" stroke-width="0.8"/>
<rect x="509.50" y="752.34" width="33.00" height="14.19" fill="#20B2AA" stroke="#222" stroke-width="0.8"/>
<rect x="509.50" y="766.53" width="33.00" height="14.19" fill="#B0E0E6" stroke="#222" stroke-width="0.8"/>
<rect x="509.50" y="780.72" width="33.00" height="14.19" fill="#789BF2" stroke="#222" stroke-width="0.8"/>
<rect x="509.50" y="794.92" width="33.00" height="14.19" fill="#3C64E6" stroke="#222" stroke-width="0.8"/>
<rect x="509.50" y="809.11" width="33.00" height="14.19" fill="#0000CD" stroke="#222" stroke-width="0.8"/>
<rect x="509.50" y="823.31" width="33.00" height="14.19" fill="#9370DB" stroke="#222" stroke-width="0.8"/>
<text x="558.5" y="628.9" class="lb" text-anchor="middle">20</text>
<text x="558.5" y="643.1" class="lb" text-anchor="middle">15</text>
<text x="558.5" y="657.3" class="lb" text-anchor="middle">10</text>
<text x="558.5" y="671.5" class="lb" text-anchor="middle">8</text>
<text x="558.5" y="685.7" class="lb" text-anchor="middle">6</text>
<text x="558.5" y="699.9" class="lb" text-anchor="middle">4</text>
<text x="558.5" y="714.1" class="lb" text-anchor="middle">2</text>
<text x="558.5" y="728.2" class="lb" text-anchor="middle">0</text>
<text x="558.5" y="742.4" class="lb" text-anchor="middle">−2</text>
<text x="558.5" y="756.6" class="lb" text-anchor="middle">−4</text>
<text x="558.5" y="770.8" class="lb" text-anchor="middle">−6</text>
<text x="558.5" y="785.0" class="lb" text-anchor="middle">−8</text>
<text x="558.5" y="799.2" class="lb" text-anchor="middle">−10</text>
<text x="558.5" y="813.4" class="lb" text-anchor="middle">−15</text>
<text x="558.5" y="827.6" class="lb" text-anchor="middle">−20</text>
<text x="1.4" y="417.8" class="sf" font-size="13.3" textLength="43.6" lengthAdjust="spacingAndGlyphs">MEAN=</text>
<text x="59.3" y="417.8" class="sf" font-size="13.3" textLength="33.7" lengthAdjust="spacingAndGlyphs">32.91</text>
<text x="106.8" y="417.8" class="sf" font-size="13.3" textLength="32.2" lengthAdjust="spacingAndGlyphs">Min=</text>
<text x="152.8" y="417.8" class="sf" font-size="13.3" textLength="33.7" lengthAdjust="spacingAndGlyphs">10.66</text>
<text x="199.8" y="417.8" class="sf" font-size="13.3" textLength="34.7" lengthAdjust="spacingAndGlyphs">Max=</text>
<text x="248.2" y="417.8" class="sf" font-size="13.3" textLength="34.7" lengthAdjust="spacingAndGlyphs">72.67</text>
<text x="295.4" y="417.8" class="sf" font-size="13.3" textLength="43.6" lengthAdjust="spacingAndGlyphs">MEAN=</text>
<text x="353.3" y="417.8" class="sf" font-size="13.3" textLength="33.7" lengthAdjust="spacingAndGlyphs">28.84</text>
<text x="400.8" y="417.8" class="sf" font-size="13.3" textLength="32.2" lengthAdjust="spacingAndGlyphs">Min=</text>
<text x="453.5" y="417.8" class="sf" font-size="13.3" textLength="27.0" lengthAdjust="spacingAndGlyphs">9.71</text>
<text x="493.8" y="417.8" class="sf" font-size="13.3" textLength="34.7" lengthAdjust="spacingAndGlyphs">Max=</text>
<text x="542.2" y="417.8" class="sf" font-size="13.3" textLength="34.7" lengthAdjust="spacingAndGlyphs">71.77</text>
<text x="447.3" y="585.2" class="sf" font-size="11.5" textLength="21.6" lengthAdjust="spacingAndGlyphs">MIN</text>
<text x="477.1" y="585.2" class="sf" font-size="11.5" textLength="7.9" lengthAdjust="spacingAndGlyphs">=</text>
<text x="494.1" y="585.2" class="sf" font-size="11.5" textLength="43.2" lengthAdjust="spacingAndGlyphs">−27.22</text>
<text x="544.9" y="585.2" class="sf" font-size="11.5" textLength="24.3" lengthAdjust="spacingAndGlyphs">MAX</text>
<text x="576.8" y="585.2" class="sf" font-size="11.5" textLength="7.6" lengthAdjust="spacingAndGlyphs">=</text>
<text x="599.0" y="585.2" class="sf" font-size="11.5" textLength="32.5" lengthAdjust="spacingAndGlyphs">32.61</text>
</svg>
</body></html>
